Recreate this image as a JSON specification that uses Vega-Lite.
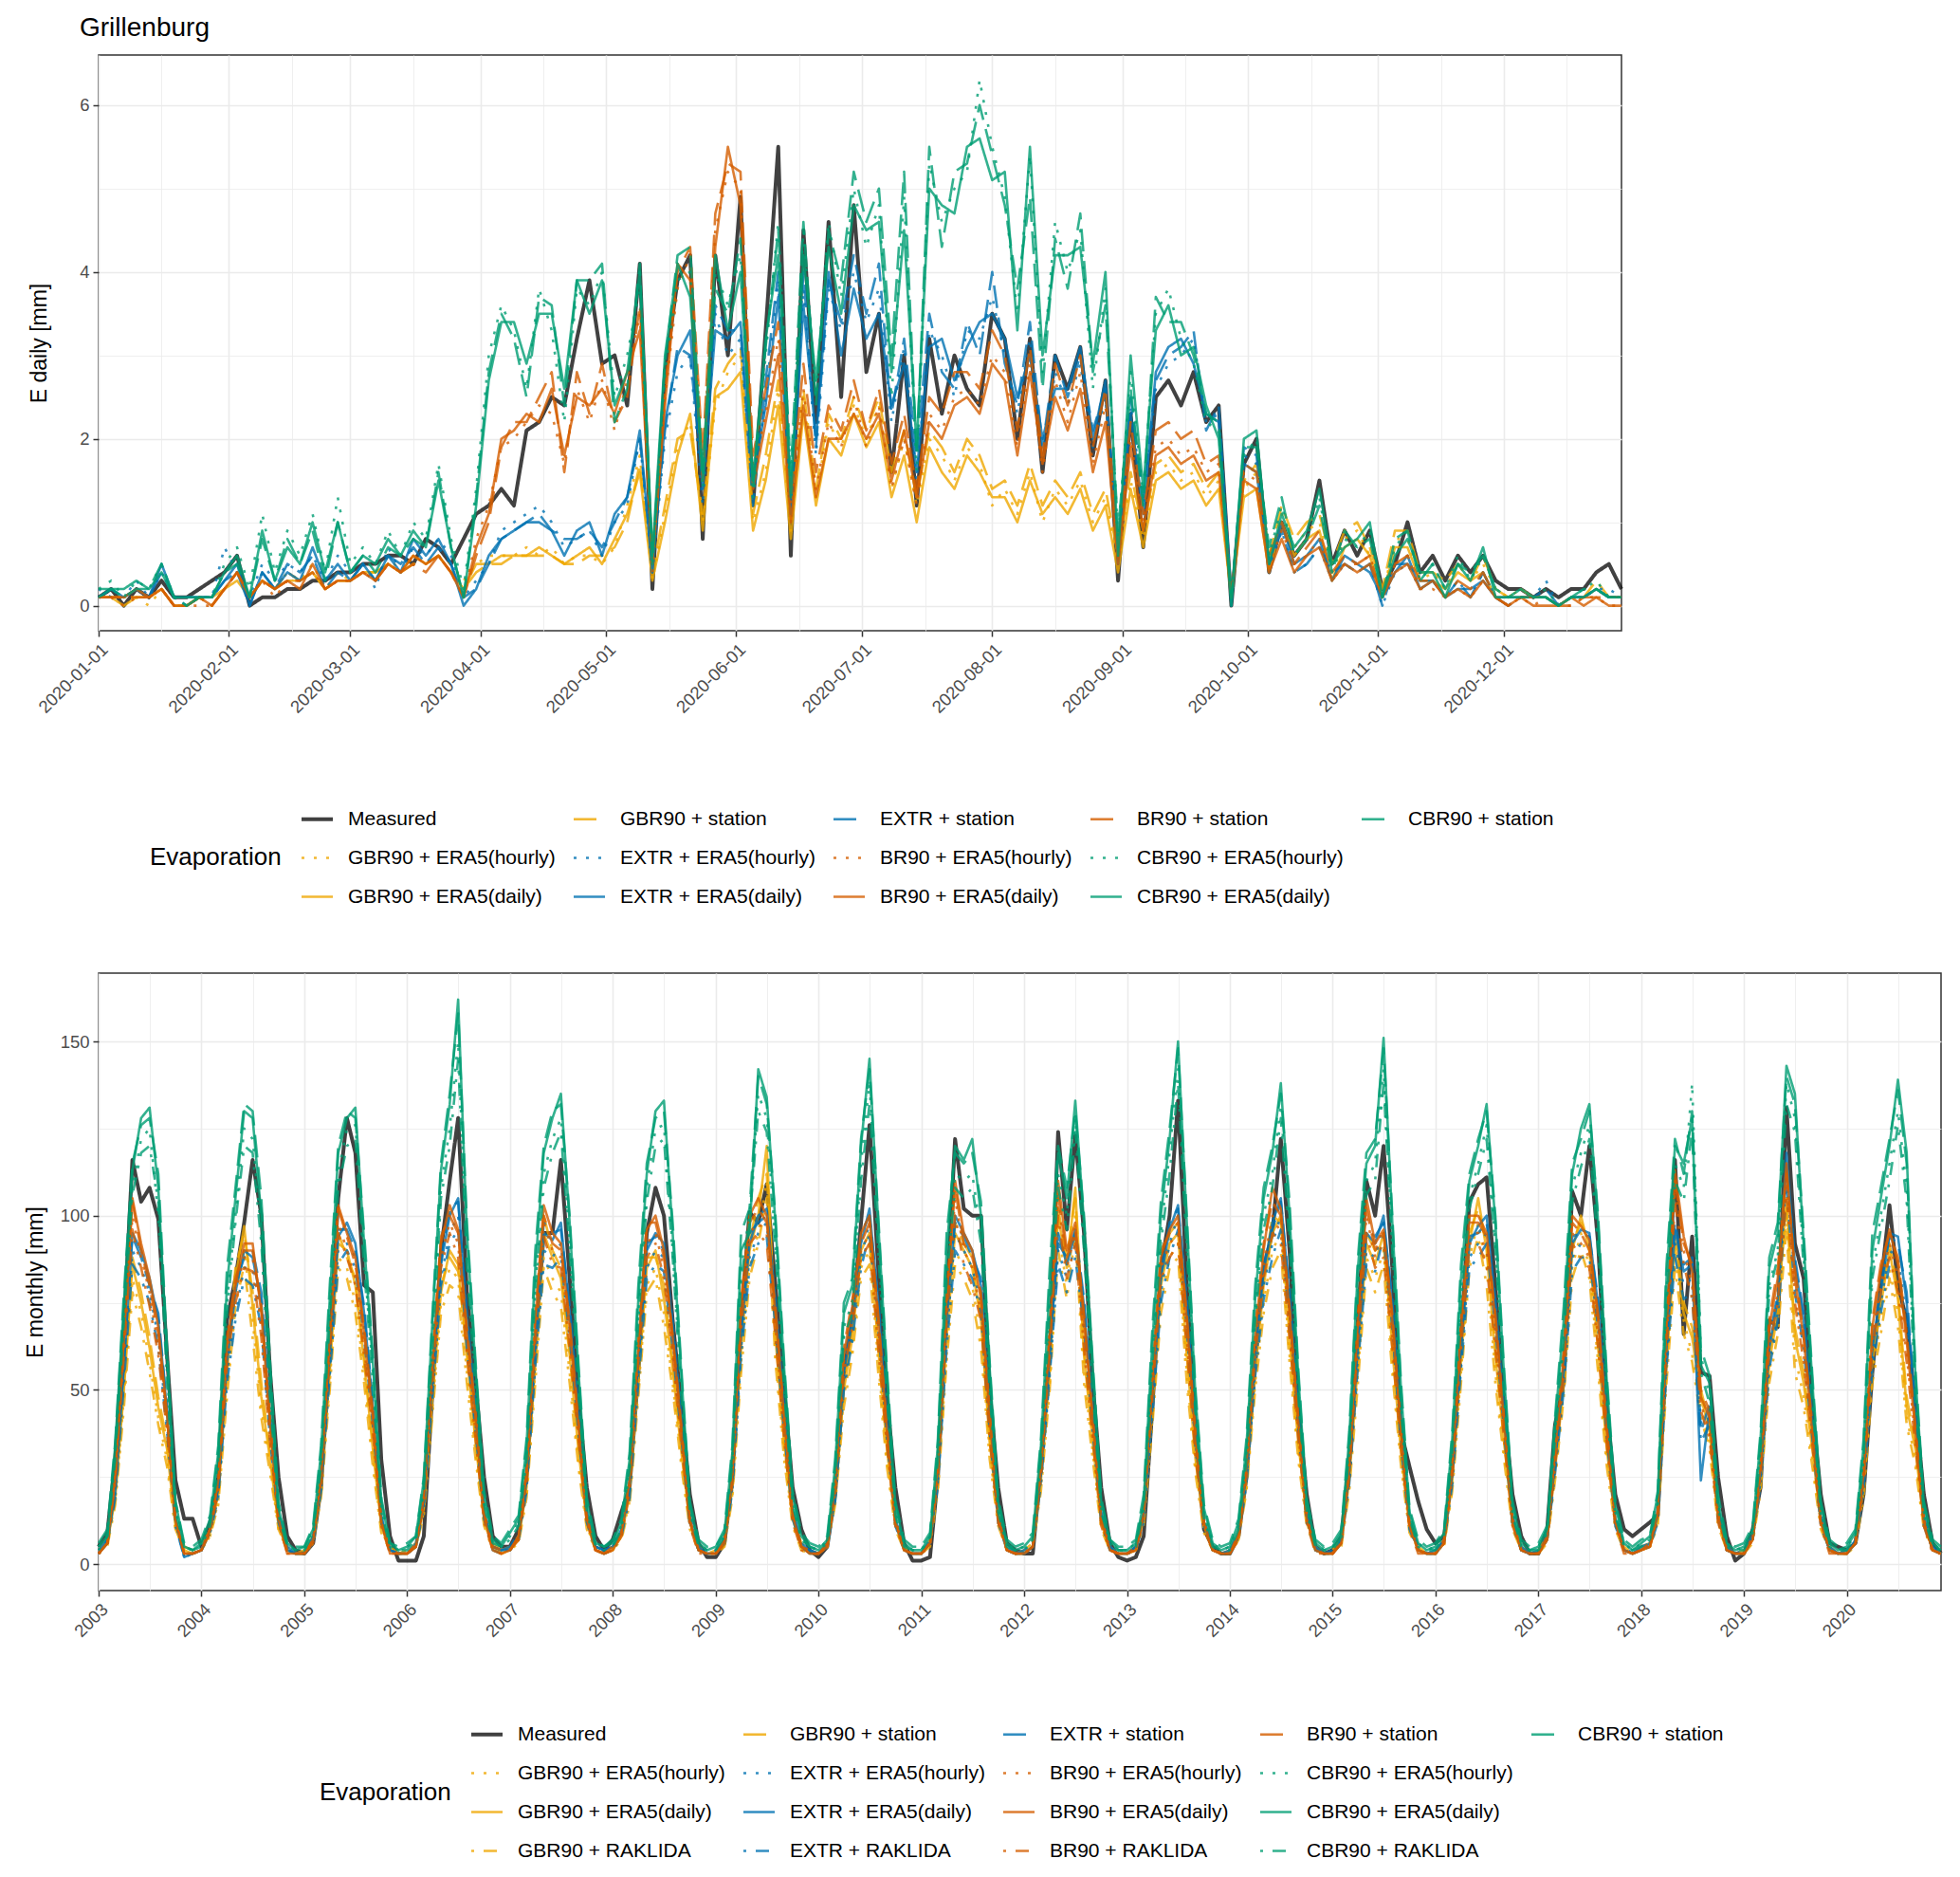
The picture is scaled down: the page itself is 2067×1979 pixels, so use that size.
{
"$schema":"https://vega.github.io/schema/vega-lite/v6.json",
"padding":{"left":25,"top":15,"right":10,"bottom":5},
"background":"white",
"datasets":{
"names":[{"k":"M","n":"Measured"},{"k":"Gh","n":"GBR90 + ERA5(hourly)"},{"k":"Gd","n":"GBR90 + ERA5(daily)"},{"k":"Gr","n":"GBR90 + RAKLIDA"},{"k":"Gs","n":"GBR90 + station"},{"k":"Eh","n":"EXTR + ERA5(hourly)"},{"k":"Ed","n":"EXTR + ERA5(daily)"},{"k":"Er","n":"EXTR + RAKLIDA"},{"k":"Es","n":"EXTR + station"},{"k":"Bh","n":"BR90 + ERA5(hourly)"},{"k":"Bd","n":"BR90 + ERA5(daily)"},{"k":"Br","n":"BR90 + RAKLIDA"},{"k":"Bs","n":"BR90 + station"},{"k":"Ch","n":"CBR90 + ERA5(hourly)"},{"k":"Cd","n":"CBR90 + ERA5(daily)"},{"k":"Cr","n":"CBR90 + RAKLIDA"},{"k":"Cs","n":"CBR90 + station"}],
"daily":[
{"d":"2020-01-01","M":0.1,"Gh":0.1,"Gd":0.1,"Gs":0.1,"Eh":0.2,"Ed":0.1,"Es":0.1,"Bh":0.1,"Bd":0.1,"Bs":0.1,"Ch":0.2,"Cd":0.1,"Cs":0.2},
{"d":"2020-01-04","M":0.2,"Gh":0.1,"Gd":0.1,"Gs":0.1,"Eh":0.1,"Ed":0.2,"Es":0.2,"Bh":0.1,"Bd":0.1,"Bs":0.1,"Ch":0.3,"Cd":0.2,"Cs":0.2},
{"d":"2020-01-07","M":0.0,"Gh":0.1,"Gd":0.0,"Gs":0.1,"Eh":0.1,"Ed":0.1,"Es":0.1,"Bh":0.0,"Bd":0.1,"Bs":0.1,"Ch":0.1,"Cd":0.2,"Cs":0.1},
{"d":"2020-01-10","M":0.2,"Gh":0.1,"Gd":0.1,"Gs":0.1,"Eh":0.3,"Ed":0.2,"Es":0.2,"Bh":0.1,"Bd":0.2,"Bs":0.1,"Ch":0.3,"Cd":0.3,"Cs":0.2},
{"d":"2020-01-13","M":0.1,"Gh":0.0,"Gd":0.1,"Gs":0.1,"Eh":0.1,"Ed":0.1,"Es":0.1,"Bh":0.1,"Bd":0.1,"Bs":0.1,"Ch":0.2,"Cd":0.2,"Cs":0.2},
{"d":"2020-01-16","M":0.3,"Gh":0.2,"Gd":0.2,"Gs":0.2,"Eh":0.4,"Ed":0.5,"Es":0.4,"Bh":0.2,"Bd":0.2,"Bs":0.2,"Ch":0.5,"Cd":0.4,"Cs":0.5},
{"d":"2020-01-19","M":0.1,"Gh":0.0,"Gd":0.0,"Gs":0.0,"Eh":0.1,"Ed":0.1,"Es":0.1,"Bh":0.0,"Bd":0.0,"Bs":0.0,"Ch":0.1,"Cd":0.1,"Cs":0.1},
{"d":"2020-01-22","M":0.1,"Gh":0.0,"Gd":0.0,"Gs":0.0,"Eh":0.0,"Ed":0.1,"Es":0.1,"Bh":0.0,"Bd":0.0,"Bs":0.0,"Ch":0.0,"Cd":0.1,"Cs":0.0},
{"d":"2020-01-25","M":0.2,"Gh":0.1,"Gd":0.1,"Gs":0.1,"Eh":0.1,"Ed":0.1,"Es":0.1,"Bh":0.0,"Bd":0.1,"Bs":0.1,"Ch":0.1,"Cd":0.1,"Cs":0.1},
{"d":"2020-01-28","M":0.3,"Gh":0.0,"Gd":0.1,"Gs":0.0,"Eh":0.1,"Ed":0.1,"Es":0.1,"Bh":0.0,"Bd":0.0,"Bs":0.0,"Ch":0.1,"Cd":0.1,"Cs":0.1},
{"d":"2020-01-31","M":0.4,"Gh":0.2,"Gd":0.2,"Gs":0.2,"Eh":0.7,"Ed":0.3,"Es":0.3,"Bh":0.2,"Bd":0.2,"Bs":0.2,"Ch":0.5,"Cd":0.4,"Cs":0.4},
{"d":"2020-02-03","M":0.6,"Gh":0.4,"Gd":0.3,"Gs":0.4,"Eh":0.4,"Ed":0.5,"Es":0.4,"Bh":0.4,"Bd":0.4,"Bs":0.4,"Ch":0.7,"Cd":0.6,"Cs":0.5},
{"d":"2020-02-06","M":0.0,"Gh":0.1,"Gd":0.1,"Gs":0.1,"Eh":0.1,"Ed":0.0,"Es":0.0,"Bh":0.1,"Bd":0.1,"Bs":0.1,"Ch":0.2,"Cd":0.1,"Cs":0.1},
{"d":"2020-02-09","M":0.1,"Gh":0.3,"Gd":0.3,"Gs":0.3,"Eh":0.5,"Ed":0.4,"Es":0.4,"Bh":0.3,"Bd":0.3,"Bs":0.3,"Ch":1.1,"Cd":0.9,"Cs":0.8},
{"d":"2020-02-12","M":0.1,"Gh":0.2,"Gd":0.2,"Gs":0.2,"Eh":0.3,"Ed":0.2,"Es":0.2,"Bh":0.1,"Bd":0.2,"Bs":0.2,"Ch":0.4,"Cd":0.3,"Cs":0.3},
{"d":"2020-02-15","M":0.2,"Gh":0.4,"Gd":0.3,"Gs":0.4,"Eh":0.5,"Ed":0.4,"Es":0.5,"Bh":0.3,"Bd":0.3,"Bs":0.3,"Ch":0.9,"Cd":0.7,"Cs":0.8},
{"d":"2020-02-18","M":0.2,"Gh":0.3,"Gd":0.3,"Gs":0.3,"Eh":0.4,"Ed":0.3,"Es":0.4,"Bh":0.3,"Bd":0.2,"Bs":0.3,"Ch":0.6,"Cd":0.5,"Cs":0.5},
{"d":"2020-02-21","M":0.3,"Gh":0.5,"Gd":0.4,"Gs":0.4,"Eh":0.6,"Ed":0.7,"Es":0.6,"Bh":0.4,"Bd":0.5,"Bs":0.4,"Ch":1.1,"Cd":1.0,"Cs":0.9},
{"d":"2020-02-24","M":0.3,"Gh":0.2,"Gd":0.2,"Gs":0.2,"Eh":0.3,"Ed":0.3,"Es":0.2,"Bh":0.2,"Bd":0.2,"Bs":0.2,"Ch":0.4,"Cd":0.4,"Cs":0.3},
{"d":"2020-02-27","M":0.4,"Gh":0.4,"Gd":0.3,"Gs":0.3,"Eh":0.6,"Ed":0.5,"Es":0.4,"Bh":0.3,"Bd":0.3,"Bs":0.3,"Ch":1.3,"Cd":1.0,"Cs":1.0},
{"d":"2020-03-01","M":0.4,"Gh":0.3,"Gd":0.3,"Gs":0.3,"Eh":0.4,"Ed":0.3,"Es":0.3,"Bh":0.3,"Bd":0.3,"Bs":0.3,"Ch":0.5,"Cd":0.4,"Cs":0.4},
{"d":"2020-03-04","M":0.5,"Gh":0.5,"Gd":0.4,"Gs":0.4,"Eh":0.5,"Ed":0.5,"Es":0.5,"Bh":0.4,"Bd":0.4,"Bs":0.4,"Ch":0.7,"Cd":0.6,"Cs":0.6},
{"d":"2020-03-07","M":0.5,"Gh":0.3,"Gd":0.4,"Gs":0.4,"Eh":0.2,"Ed":0.3,"Es":0.3,"Bh":0.3,"Bd":0.3,"Bs":0.3,"Ch":0.5,"Cd":0.5,"Cs":0.4},
{"d":"2020-03-10","M":0.6,"Gh":0.6,"Gd":0.5,"Gs":0.5,"Eh":0.7,"Ed":0.6,"Es":0.6,"Bh":0.5,"Bd":0.5,"Bs":0.5,"Ch":0.9,"Cd":0.8,"Cs":0.7},
{"d":"2020-03-13","M":0.6,"Gh":0.4,"Gd":0.4,"Gs":0.4,"Eh":0.4,"Ed":0.4,"Es":0.5,"Bh":0.4,"Bd":0.4,"Bs":0.4,"Ch":0.6,"Cd":0.6,"Cs":0.6},
{"d":"2020-03-16","M":0.5,"Gh":0.6,"Gd":0.6,"Gs":0.5,"Eh":0.7,"Ed":0.8,"Es":0.7,"Bh":0.6,"Bd":0.6,"Bs":0.5,"Ch":1.0,"Cd":0.9,"Cs":0.8},
{"d":"2020-03-19","M":0.8,"Gh":0.5,"Gd":0.5,"Gs":0.5,"Eh":0.6,"Ed":0.6,"Es":0.5,"Bh":0.5,"Bd":0.5,"Bs":0.4,"Ch":0.8,"Cd":0.7,"Cs":0.7},
{"d":"2020-03-22","M":0.7,"Gh":0.6,"Gd":0.6,"Gs":0.6,"Eh":0.8,"Ed":0.8,"Es":0.7,"Bh":0.6,"Bd":0.6,"Bs":0.6,"Ch":1.7,"Cd":1.5,"Cs":1.6},
{"d":"2020-03-25","M":0.5,"Gh":0.5,"Gd":0.4,"Gs":0.4,"Eh":0.6,"Ed":0.5,"Es":0.5,"Bh":0.4,"Bd":0.4,"Bs":0.4,"Ch":0.8,"Cd":0.7,"Cs":0.7},
{"d":"2020-03-28","M":0.8,"Gh":0.3,"Gd":0.2,"Gs":0.2,"Eh":0.1,"Ed":0.0,"Es":0.1,"Bh":0.1,"Bd":0.1,"Bs":0.1,"Ch":0.2,"Cd":0.1,"Cs":0.1},
{"d":"2020-03-31","M":1.1,"Gh":0.5,"Gd":0.5,"Gs":0.4,"Eh":0.3,"Ed":0.2,"Es":0.2,"Bh":0.8,"Bd":0.7,"Bs":0.6,"Ch":1.4,"Cd":1.2,"Cs":1.3},
{"d":"2020-04-03","M":1.2,"Gh":0.6,"Gd":0.5,"Gs":0.5,"Eh":0.5,"Ed":0.6,"Es":0.5,"Bh":1.2,"Bd":1.1,"Bs":1.0,"Ch":3.0,"Cd":2.7,"Cs":2.8},
{"d":"2020-04-06","M":1.4,"Gh":0.6,"Gd":0.6,"Gs":0.5,"Eh":0.9,"Ed":0.8,"Es":0.8,"Bh":1.9,"Bd":2.0,"Bs":1.9,"Ch":3.6,"Cd":3.4,"Cs":3.5},
{"d":"2020-04-09","M":1.2,"Gh":0.6,"Gd":0.6,"Gs":0.6,"Eh":1.0,"Ed":0.9,"Es":0.9,"Bh":2.0,"Bd":2.1,"Bs":2.2,"Ch":3.3,"Cd":3.4,"Cs":3.2},
{"d":"2020-04-12","M":2.1,"Gh":0.7,"Gd":0.6,"Gs":0.6,"Eh":1.1,"Ed":1.0,"Es":1.0,"Bh":2.2,"Bd":2.3,"Bs":2.2,"Ch":2.6,"Cd":2.9,"Cs":2.5},
{"d":"2020-04-15","M":2.2,"Gh":0.6,"Gd":0.7,"Gs":0.6,"Eh":1.2,"Ed":1.0,"Es":1.1,"Bh":2.4,"Bd":2.2,"Bs":2.5,"Ch":3.8,"Cd":3.5,"Cs":3.7},
{"d":"2020-04-18","M":2.5,"Gh":0.7,"Gd":0.6,"Gs":0.6,"Eh":1.0,"Ed":0.9,"Es":0.9,"Bh":2.3,"Bd":2.6,"Bs":2.8,"Ch":3.3,"Cd":3.5,"Cs":3.6},
{"d":"2020-04-21","M":2.4,"Gh":0.5,"Gd":0.5,"Gs":0.5,"Eh":0.7,"Ed":0.6,"Es":0.8,"Bh":1.7,"Bd":1.8,"Bs":1.6,"Ch":2.2,"Cd":2.6,"Cs":2.4},
{"d":"2020-04-24","M":3.2,"Gh":0.6,"Gd":0.6,"Gs":0.5,"Eh":0.8,"Ed":0.9,"Es":0.8,"Bh":2.6,"Bd":2.5,"Bs":2.8,"Ch":3.8,"Cd":3.9,"Cs":3.9},
{"d":"2020-04-27","M":3.9,"Gh":0.6,"Gd":0.7,"Gs":0.6,"Eh":0.9,"Ed":1.0,"Es":0.9,"Bh":2.2,"Bd":2.4,"Bs":2.3,"Ch":3.6,"Cd":3.5,"Cs":3.9},
{"d":"2020-04-30","M":2.9,"Gh":0.5,"Gd":0.5,"Gs":0.6,"Eh":0.6,"Ed":0.6,"Es":0.7,"Bh":2.7,"Bd":2.6,"Bs":2.9,"Ch":4.0,"Cd":3.9,"Cs":4.1},
{"d":"2020-05-03","M":3.0,"Gh":0.7,"Gd":0.8,"Gs":0.7,"Eh":1.0,"Ed":1.1,"Es":1.0,"Bh":2.1,"Bd":2.3,"Bs":2.2,"Ch":2.5,"Cd":2.4,"Cs":2.2},
{"d":"2020-05-06","M":2.4,"Gh":1.2,"Gd":1.1,"Gs":1.0,"Eh":1.2,"Ed":1.3,"Es":1.3,"Bh":2.7,"Bd":2.8,"Bs":2.5,"Ch":3.0,"Cd":2.8,"Cs":2.6},
{"d":"2020-05-09","M":4.1,"Gh":1.8,"Gd":1.6,"Gs":1.7,"Eh":2.0,"Ed":2.1,"Es":2.0,"Bh":3.5,"Bd":3.3,"Bs":3.6,"Ch":3.8,"Cd":4.0,"Cs":4.1},
{"d":"2020-05-12","M":0.2,"Gh":0.3,"Gd":0.3,"Gs":0.4,"Eh":0.4,"Ed":0.4,"Es":0.5,"Bh":0.4,"Bd":0.5,"Bs":0.6,"Ch":0.5,"Cd":0.6,"Cs":0.5},
{"d":"2020-05-15","M":2.8,"Gh":1.1,"Gd":1.0,"Gs":1.2,"Eh":2.0,"Ed":2.2,"Es":2.1,"Bh":2.5,"Bd":2.4,"Bs":2.6,"Ch":2.8,"Cd":3.0,"Cs":2.9},
{"d":"2020-05-18","M":3.9,"Gh":1.9,"Gd":1.8,"Gs":2.0,"Eh":2.8,"Ed":3.0,"Es":3.1,"Bh":3.8,"Bd":4.1,"Bs":4.0,"Ch":3.9,"Cd":4.1,"Cs":4.2},
{"d":"2020-05-21","M":4.2,"Gh":2.2,"Gd":2.3,"Gs":2.1,"Eh":3.0,"Ed":3.3,"Es":3.0,"Bh":4.2,"Bd":3.9,"Bs":4.3,"Ch":4.0,"Cd":3.7,"Cs":4.3},
{"d":"2020-05-24","M":0.8,"Gh":1.0,"Gd":0.9,"Gs":1.1,"Eh":1.2,"Ed":1.4,"Es":1.5,"Bh":1.6,"Bd":1.5,"Bs":1.8,"Ch":1.4,"Cd":1.6,"Cs":1.5},
{"d":"2020-05-27","M":4.2,"Gh":2.4,"Gd":2.5,"Gs":2.6,"Eh":3.5,"Ed":3.3,"Es":3.6,"Bh":4.5,"Bd":4.3,"Bs":4.7,"Ch":4.0,"Cd":4.2,"Cs":3.8},
{"d":"2020-05-30","M":3.0,"Gh":2.8,"Gd":2.6,"Gs":2.9,"Eh":3.0,"Ed":3.2,"Es":3.3,"Bh":5.2,"Bd":5.5,"Bs":5.3,"Ch":3.6,"Cd":3.3,"Cs":3.5},
{"d":"2020-06-02","M":4.9,"Gh":3.0,"Gd":2.8,"Gs":3.1,"Eh":3.2,"Ed":3.4,"Es":3.3,"Bh":5.0,"Bd":4.8,"Bs":5.2,"Ch":4.2,"Cd":4.0,"Cs":4.4},
{"d":"2020-06-05","M":1.2,"Gh":1.0,"Gd":0.9,"Gs":1.1,"Eh":1.3,"Ed":1.5,"Es":1.2,"Bh":1.6,"Bd":1.4,"Bs":1.8,"Ch":1.3,"Cd":1.5,"Cs":1.4},
{"d":"2020-06-08","M":3.3,"Gh":1.6,"Gd":1.5,"Gs":1.8,"Eh":2.5,"Ed":2.4,"Es":2.7,"Bh":2.3,"Bd":2.2,"Bs":2.6,"Ch":3.0,"Cd":3.2,"Cs":3.1},
{"d":"2020-06-11","M":5.5,"Gh":2.6,"Gd":2.4,"Gs":2.7,"Eh":3.9,"Ed":3.7,"Es":4.0,"Bh":3.2,"Bd":3.0,"Bs":3.4,"Ch":4.6,"Cd":4.2,"Cs":4.5},
{"d":"2020-06-14","M":0.6,"Gh":0.9,"Gd":0.8,"Gs":1.0,"Eh":1.2,"Ed":1.1,"Es":1.3,"Bh":1.2,"Bd":1.0,"Bs":1.3,"Ch":1.5,"Cd":1.3,"Cs":1.6},
{"d":"2020-06-17","M":4.5,"Gh":2.5,"Gd":2.3,"Gs":2.6,"Eh":3.8,"Ed":3.6,"Es":4.0,"Bh":2.6,"Bd":2.4,"Bs":2.9,"Ch":4.5,"Cd":4.2,"Cs":4.6},
{"d":"2020-06-20","M":2.2,"Gh":1.3,"Gd":1.2,"Gs":1.4,"Eh":1.8,"Ed":2.0,"Es":1.9,"Bh":1.4,"Bd":1.3,"Bs":1.6,"Ch":2.5,"Cd":2.7,"Cs":2.4},
{"d":"2020-06-23","M":4.6,"Gh":2.2,"Gd":2.0,"Gs":2.3,"Eh":3.8,"Ed":4.0,"Es":3.9,"Bh":2.2,"Bd":2.0,"Bs":2.4,"Ch":4.6,"Cd":4.3,"Cs":4.5},
{"d":"2020-06-26","M":2.5,"Gh":1.9,"Gd":1.8,"Gs":2.0,"Eh":3.3,"Ed":3.0,"Es":3.4,"Bh":1.9,"Bd":2.0,"Bs":2.1,"Ch":3.7,"Cd":3.5,"Cs":3.9},
{"d":"2020-06-29","M":4.8,"Gh":2.4,"Gd":2.3,"Gs":2.5,"Eh":4.0,"Ed":3.8,"Es":4.2,"Bh":2.5,"Bd":2.3,"Bs":2.7,"Ch":5.0,"Cd":4.8,"Cs":5.2},
{"d":"2020-07-02","M":2.8,"Gh":2.0,"Gd":1.9,"Gs":2.1,"Eh":3.4,"Ed":3.2,"Es":3.5,"Bh":1.9,"Bd":2.0,"Bs":2.1,"Ch":4.3,"Cd":4.5,"Cs":4.6},
{"d":"2020-07-05","M":3.5,"Gh":2.4,"Gd":2.2,"Gs":2.5,"Eh":3.8,"Ed":3.5,"Es":4.1,"Bh":2.4,"Bd":2.3,"Bs":2.6,"Ch":4.8,"Cd":4.6,"Cs":5.0},
{"d":"2020-07-08","M":1.6,"Gh":1.4,"Gd":1.3,"Gs":1.6,"Eh":2.2,"Ed":2.4,"Es":2.3,"Bh":1.4,"Bd":1.5,"Bs":1.7,"Ch":2.5,"Cd":2.8,"Cs":3.0},
{"d":"2020-07-11","M":3.0,"Gh":2.0,"Gd":1.8,"Gs":2.1,"Eh":3.1,"Ed":2.9,"Es":3.2,"Bh":2.0,"Bd":2.1,"Bs":2.3,"Ch":4.9,"Cd":4.5,"Cs":5.2},
{"d":"2020-07-14","M":1.2,"Gh":1.2,"Gd":1.0,"Gs":1.3,"Eh":1.5,"Ed":1.6,"Es":1.8,"Bh":1.2,"Bd":1.3,"Bs":1.4,"Ch":1.6,"Cd":1.9,"Cs":1.8},
{"d":"2020-07-17","M":3.2,"Gh":2.0,"Gd":1.9,"Gs":2.1,"Eh":3.3,"Ed":3.1,"Es":3.5,"Bh":2.3,"Bd":2.2,"Bs":2.5,"Ch":5.3,"Cd":5.0,"Cs":5.5},
{"d":"2020-07-20","M":2.3,"Gh":1.8,"Gd":1.6,"Gs":1.9,"Eh":3.0,"Ed":3.2,"Es":2.8,"Bh":2.1,"Bd":2.0,"Bs":2.3,"Ch":4.6,"Cd":4.8,"Cs":4.3},
{"d":"2020-07-23","M":3.0,"Gh":1.5,"Gd":1.4,"Gs":1.6,"Eh":2.5,"Ed":2.7,"Es":2.6,"Bh":2.5,"Bd":2.4,"Bs":2.8,"Ch":5.0,"Cd":4.7,"Cs":5.2},
{"d":"2020-07-26","M":2.6,"Gh":1.9,"Gd":1.8,"Gs":2.0,"Eh":3.3,"Ed":3.1,"Es":3.4,"Bh":2.6,"Bd":2.5,"Bs":2.8,"Ch":5.2,"Cd":5.5,"Cs":5.3},
{"d":"2020-07-29","M":2.4,"Gh":1.7,"Gd":1.6,"Gs":1.8,"Eh":3.2,"Ed":3.4,"Es":3.0,"Bh":2.4,"Bd":2.3,"Bs":2.6,"Ch":6.3,"Cd":5.6,"Cs":6.0},
{"d":"2020-08-01","M":3.5,"Gh":1.2,"Gd":1.3,"Gs":1.4,"Eh":3.7,"Ed":3.5,"Es":4.0,"Bh":3.0,"Bd":2.9,"Bs":3.3,"Ch":5.5,"Cd":5.1,"Cs":5.4},
{"d":"2020-08-04","M":3.2,"Gh":1.4,"Gd":1.3,"Gs":1.5,"Eh":3.0,"Ed":3.2,"Es":2.9,"Bh":2.8,"Bd":2.7,"Bs":3.0,"Ch":4.9,"Cd":5.2,"Cs":4.8},
{"d":"2020-08-07","M":2.0,"Gh":1.1,"Gd":1.0,"Gs":1.2,"Eh":2.3,"Ed":2.5,"Es":2.4,"Bh":1.9,"Bd":1.8,"Bs":2.1,"Ch":3.5,"Cd":3.3,"Cs":3.8},
{"d":"2020-08-10","M":3.2,"Gh":1.6,"Gd":1.5,"Gs":1.7,"Eh":3.2,"Ed":3.0,"Es":3.4,"Bh":2.9,"Bd":2.8,"Bs":3.1,"Ch":5.4,"Cd":5.5,"Cs":4.9},
{"d":"2020-08-13","M":1.6,"Gh":1.0,"Gd":1.1,"Gs":1.2,"Eh":1.8,"Ed":2.0,"Es":1.9,"Bh":1.6,"Bd":1.7,"Bs":1.8,"Ch":2.8,"Cd":3.0,"Cs":2.6},
{"d":"2020-08-16","M":3.0,"Gh":1.4,"Gd":1.3,"Gs":1.5,"Eh":2.8,"Ed":2.6,"Es":3.0,"Bh":2.7,"Bd":2.5,"Bs":2.9,"Ch":4.6,"Cd":4.2,"Cs":4.4},
{"d":"2020-08-19","M":2.6,"Gh":1.2,"Gd":1.1,"Gs":1.3,"Eh":2.4,"Ed":2.6,"Es":2.5,"Bh":2.2,"Bd":2.1,"Bs":2.4,"Ch":4.0,"Cd":4.2,"Cs":3.8},
{"d":"2020-08-22","M":3.1,"Gh":1.5,"Gd":1.4,"Gs":1.6,"Eh":2.9,"Ed":3.1,"Es":3.0,"Bh":2.8,"Bd":2.6,"Bs":3.0,"Ch":4.5,"Cd":4.3,"Cs":4.7},
{"d":"2020-08-25","M":1.8,"Gh":1.0,"Gd":0.9,"Gs":1.1,"Eh":1.9,"Ed":2.0,"Es":2.1,"Bh":1.7,"Bd":1.6,"Bs":1.9,"Ch":2.6,"Cd":2.9,"Cs":2.8},
{"d":"2020-08-28","M":2.7,"Gh":1.3,"Gd":1.2,"Gs":1.4,"Eh":2.5,"Ed":2.7,"Es":2.6,"Bh":2.4,"Bd":2.2,"Bs":2.6,"Ch":3.8,"Cd":4.0,"Cs":3.6},
{"d":"2020-08-31","M":0.3,"Gh":0.5,"Gd":0.4,"Gs":0.6,"Eh":0.6,"Ed":0.5,"Es":0.7,"Bh":0.6,"Bd":0.5,"Bs":0.7,"Ch":0.8,"Cd":0.6,"Cs":0.9},
{"d":"2020-09-03","M":2.3,"Gh":1.5,"Gd":1.4,"Gs":1.6,"Eh":2.4,"Ed":2.3,"Es":2.5,"Bh":2.0,"Bd":1.9,"Bs":2.2,"Ch":2.8,"Cd":3.0,"Cs":2.6},
{"d":"2020-09-06","M":0.7,"Gh":0.8,"Gd":0.7,"Gs":0.9,"Eh":1.2,"Ed":1.1,"Es":1.3,"Bh":1.0,"Bd":0.9,"Bs":1.1,"Ch":1.3,"Cd":1.4,"Cs":1.2},
{"d":"2020-09-09","M":2.5,"Gh":1.6,"Gd":1.5,"Gs":1.7,"Eh":2.6,"Ed":2.8,"Es":2.7,"Bh":1.9,"Bd":1.8,"Bs":2.1,"Ch":3.5,"Cd":3.3,"Cs":3.7},
{"d":"2020-09-12","M":2.7,"Gh":1.7,"Gd":1.6,"Gs":1.8,"Eh":2.9,"Ed":3.1,"Es":3.0,"Bh":2.0,"Bd":1.9,"Bs":2.2,"Ch":3.8,"Cd":3.6,"Cs":3.4},
{"d":"2020-09-15","M":2.4,"Gh":1.5,"Gd":1.4,"Gs":1.6,"Eh":3.0,"Ed":3.2,"Es":3.1,"Bh":1.8,"Bd":1.7,"Bs":2.0,"Ch":3.2,"Cd":3.0,"Cs":3.4},
{"d":"2020-09-18","M":2.8,"Gh":1.6,"Gd":1.5,"Gs":1.7,"Eh":3.2,"Ed":2.9,"Es":3.3,"Bh":1.9,"Bd":1.8,"Bs":2.1,"Ch":2.9,"Cd":3.1,"Cs":3.0},
{"d":"2020-09-21","M":2.2,"Gh":1.3,"Gd":1.2,"Gs":1.4,"Eh":2.2,"Ed":2.3,"Es":2.1,"Bh":1.6,"Bd":1.5,"Bs":1.7,"Ch":2.2,"Cd":2.4,"Cs":2.3},
{"d":"2020-09-24","M":2.4,"Gh":1.5,"Gd":1.4,"Gs":1.6,"Eh":2.3,"Ed":2.2,"Es":2.4,"Bh":1.7,"Bd":1.6,"Bs":1.8,"Ch":2.1,"Cd":2.0,"Cs":2.2},
{"d":"2020-09-27","M":0.0,"Gh":0.1,"Gd":0.1,"Gs":0.2,"Eh":0.1,"Ed":0.0,"Es":0.1,"Bh":0.1,"Bd":0.1,"Bs":0.1,"Ch":0.1,"Cd":0.0,"Cs":0.1},
{"d":"2020-09-30","M":1.7,"Gh":1.4,"Gd":1.3,"Gs":1.5,"Eh":1.8,"Ed":1.7,"Es":1.9,"Bh":1.6,"Bd":1.5,"Bs":1.7,"Ch":1.8,"Cd":2.0,"Cs":1.9},
{"d":"2020-10-03","M":2.0,"Gh":1.6,"Gd":1.4,"Gs":1.7,"Eh":1.7,"Ed":1.6,"Es":1.8,"Bh":1.5,"Bd":1.4,"Bs":1.6,"Ch":2.0,"Cd":2.1,"Cs":1.9},
{"d":"2020-10-06","M":0.4,"Gh":0.5,"Gd":0.4,"Gs":0.6,"Eh":0.4,"Ed":0.5,"Es":0.5,"Bh":0.5,"Bd":0.4,"Bs":0.6,"Ch":0.6,"Cd":0.5,"Cs":0.7},
{"d":"2020-10-09","M":1.0,"Gh":1.1,"Gd":1.0,"Gs":1.2,"Eh":0.9,"Ed":1.0,"Es":0.9,"Bh":0.9,"Bd":0.8,"Bs":1.0,"Ch":1.2,"Cd":1.1,"Cs":1.3},
{"d":"2020-10-12","M":0.6,"Gh":0.7,"Gd":0.6,"Gs":0.8,"Eh":0.4,"Ed":0.5,"Es":0.4,"Bh":0.5,"Bd":0.4,"Bs":0.5,"Ch":0.6,"Cd":0.7,"Cs":0.6},
{"d":"2020-10-15","M":0.8,"Gh":0.9,"Gd":0.8,"Gs":1.0,"Eh":0.5,"Ed":0.6,"Es":0.5,"Bh":0.6,"Bd":0.6,"Bs":0.7,"Ch":0.8,"Cd":0.9,"Cs":0.8},
{"d":"2020-10-18","M":1.5,"Gh":1.0,"Gd":0.9,"Gs":1.1,"Eh":0.7,"Ed":0.8,"Es":0.7,"Bh":0.8,"Bd":0.7,"Bs":0.9,"Ch":1.3,"Cd":1.4,"Cs":1.2},
{"d":"2020-10-21","M":0.5,"Gh":0.4,"Gd":0.3,"Gs":0.5,"Eh":0.3,"Ed":0.3,"Es":0.4,"Bh":0.3,"Bd":0.3,"Bs":0.4,"Ch":0.4,"Cd":0.5,"Cs":0.4},
{"d":"2020-10-24","M":0.9,"Gh":0.8,"Gd":0.7,"Gs":0.9,"Eh":0.5,"Ed":0.6,"Es":0.5,"Bh":0.5,"Bd":0.5,"Bs":0.6,"Ch":0.8,"Cd":0.7,"Cs":0.9},
{"d":"2020-10-27","M":0.6,"Gh":0.9,"Gd":0.8,"Gs":1.0,"Eh":0.4,"Ed":0.5,"Es":0.4,"Bh":0.5,"Bd":0.4,"Bs":0.5,"Ch":0.7,"Cd":0.8,"Cs":0.7},
{"d":"2020-10-30","M":0.9,"Gh":0.6,"Gd":0.6,"Gs":0.7,"Eh":0.5,"Ed":0.4,"Es":0.5,"Bh":0.6,"Bd":0.5,"Bs":0.6,"Ch":0.9,"Cd":1.0,"Cs":0.8},
{"d":"2020-11-02","M":0.2,"Gh":0.1,"Gd":0.1,"Gs":0.2,"Eh":0.0,"Ed":0.1,"Es":0.0,"Bh":0.1,"Bd":0.1,"Bs":0.1,"Ch":0.1,"Cd":0.1,"Cs":0.1},
{"d":"2020-11-05","M":0.5,"Gh":0.8,"Gd":0.7,"Gs":0.9,"Eh":0.4,"Ed":0.4,"Es":0.5,"Bh":0.5,"Bd":0.4,"Bs":0.5,"Ch":0.7,"Cd":0.6,"Cs":0.8},
{"d":"2020-11-08","M":1.0,"Gh":0.8,"Gd":0.7,"Gs":0.9,"Eh":0.5,"Ed":0.6,"Es":0.5,"Bh":0.6,"Bd":0.5,"Bs":0.6,"Ch":0.9,"Cd":0.8,"Cs":0.9},
{"d":"2020-11-11","M":0.4,"Gh":0.3,"Gd":0.3,"Gs":0.4,"Eh":0.2,"Ed":0.2,"Es":0.3,"Bh":0.2,"Bd":0.2,"Bs":0.3,"Ch":0.3,"Cd":0.4,"Cs":0.3},
{"d":"2020-11-14","M":0.6,"Gh":0.4,"Gd":0.3,"Gs":0.4,"Eh":0.3,"Ed":0.3,"Es":0.3,"Bh":0.2,"Bd":0.3,"Bs":0.3,"Ch":0.5,"Cd":0.4,"Cs":0.5},
{"d":"2020-11-17","M":0.3,"Gh":0.2,"Gd":0.2,"Gs":0.3,"Eh":0.1,"Ed":0.1,"Es":0.1,"Bh":0.1,"Bd":0.1,"Bs":0.1,"Ch":0.2,"Cd":0.1,"Cs":0.2},
{"d":"2020-11-20","M":0.6,"Gh":0.5,"Gd":0.4,"Gs":0.5,"Eh":0.3,"Ed":0.2,"Es":0.3,"Bh":0.2,"Bd":0.2,"Bs":0.3,"Ch":0.6,"Cd":0.5,"Cs":0.5},
{"d":"2020-11-23","M":0.4,"Gh":0.3,"Gd":0.3,"Gs":0.3,"Eh":0.1,"Ed":0.2,"Es":0.1,"Bh":0.1,"Bd":0.1,"Bs":0.2,"Ch":0.3,"Cd":0.3,"Cs":0.4},
{"d":"2020-11-26","M":0.6,"Gh":0.5,"Gd":0.4,"Gs":0.6,"Eh":0.4,"Ed":0.3,"Es":0.4,"Bh":0.3,"Bd":0.3,"Bs":0.4,"Ch":0.6,"Cd":0.7,"Cs":0.6},
{"d":"2020-11-29","M":0.3,"Gh":0.2,"Gd":0.1,"Gs":0.2,"Eh":0.1,"Ed":0.1,"Es":0.1,"Bh":0.1,"Bd":0.1,"Bs":0.1,"Ch":0.2,"Cd":0.1,"Cs":0.2},
{"d":"2020-12-02","M":0.2,"Gh":0.1,"Gd":0.1,"Gs":0.1,"Eh":0.0,"Ed":0.1,"Es":0.0,"Bh":0.0,"Bd":0.0,"Bs":0.0,"Ch":0.1,"Cd":0.1,"Cs":0.1},
{"d":"2020-12-05","M":0.2,"Gh":0.2,"Gd":0.1,"Gs":0.2,"Eh":0.1,"Ed":0.1,"Es":0.1,"Bh":0.1,"Bd":0.1,"Bs":0.1,"Ch":0.1,"Cd":0.2,"Cs":0.1},
{"d":"2020-12-08","M":0.1,"Gh":0.1,"Gd":0.1,"Gs":0.1,"Eh":0.1,"Ed":0.1,"Es":0.1,"Bh":0.0,"Bd":0.0,"Bs":0.1,"Ch":0.1,"Cd":0.1,"Cs":0.1},
{"d":"2020-12-11","M":0.2,"Gh":0.1,"Gd":0.1,"Gs":0.1,"Eh":0.3,"Ed":0.1,"Es":0.2,"Bh":0.1,"Bd":0.0,"Bs":0.1,"Ch":0.2,"Cd":0.1,"Cs":0.1},
{"d":"2020-12-14","M":0.1,"Gh":0.0,"Gd":0.0,"Gs":0.0,"Eh":0.0,"Ed":0.0,"Es":0.0,"Bh":0.0,"Bd":0.0,"Bs":0.0,"Ch":0.0,"Cd":0.0,"Cs":0.0},
{"d":"2020-12-17","M":0.2,"Gh":0.1,"Gd":0.1,"Gs":0.1,"Eh":0.1,"Ed":0.1,"Es":0.1,"Bh":0.0,"Bd":0.1,"Bs":0.0,"Ch":0.1,"Cd":0.1,"Cs":0.1},
{"d":"2020-12-20","M":0.2,"Gh":0.1,"Gd":0.1,"Gs":0.1,"Eh":0.1,"Ed":0.1,"Es":0.1,"Bh":0.1,"Bd":0.0,"Bs":0.1,"Ch":0.2,"Cd":0.1,"Cs":0.2},
{"d":"2020-12-23","M":0.4,"Gh":0.2,"Gd":0.2,"Gs":0.3,"Eh":0.2,"Ed":0.2,"Es":0.2,"Bh":0.1,"Bd":0.1,"Bs":0.1,"Ch":0.3,"Cd":0.2,"Cs":0.2},
{"d":"2020-12-26","M":0.5,"Gh":0.1,"Gd":0.1,"Gs":0.1,"Eh":0.2,"Ed":0.1,"Es":0.1,"Bh":0.0,"Bd":0.0,"Bs":0.1,"Ch":0.1,"Cd":0.1,"Cs":0.1},
{"d":"2020-12-29","M":0.2,"Gh":0.1,"Gd":0.1,"Gs":0.1,"Eh":0.1,"Ed":0.1,"Es":0.1,"Bh":0.0,"Bd":0.0,"Bs":0.1,"Ch":0.1,"Cd":0.1,"Cs":0.1}
],
"monthly":[
{"t":"2003-01","M":5,"Gh":3,"Gd":3,"Gr":3,"Gs":4,"Eh":3,"Ed":3,"Er":3,"Es":4,"Bh":3,"Bd":3,"Br":3,"Bs":3,"Ch":5,"Cd":5,"Cr":4,"Cs":6},
{"t":"2003-02","M":9,"Gh":6,"Gd":6,"Gr":5,"Gs":7,"Eh":7,"Ed":6,"Er":6,"Es":7,"Bh":6,"Bd":6,"Br":6,"Bs":6,"Ch":9,"Cd":8,"Cr":8,"Cs":10},
{"t":"2003-03","M":30,"Gh":18,"Gd":19,"Gr":17,"Gs":20,"Eh":20,"Ed":21,"Er":19,"Es":22,"Bh":24,"Bd":25,"Br":23,"Bs":26,"Ch":32,"Cd":34,"Cr":30,"Cs":35},
{"t":"2003-04","M":68,"Gh":48,"Gd":50,"Gr":45,"Gs":52,"Eh":55,"Ed":57,"Er":52,"Es":58,"Bh":62,"Bd":65,"Br":60,"Bs":66,"Ch":72,"Cd":75,"Cr":70,"Cs":78},
{"t":"2003-05","M":116,"Gh":82,"Gd":86,"Gr":78,"Gs":88,"Eh":90,"Ed":95,"Er":86,"Es":94,"Bh":100,"Bd":105,"Br":96,"Bs":104,"Ch":108,"Cd":113,"Cr":106,"Cs":115},
{"t":"2003-06","M":104,"Gh":72,"Gd":75,"Gr":68,"Gs":78,"Eh":85,"Ed":90,"Er":82,"Es":88,"Bh":88,"Bd":92,"Br":85,"Bs":90,"Ch":122,"Cd":128,"Cr":118,"Cs":126},
{"t":"2003-07","M":108,"Gh":58,"Gd":62,"Gr":55,"Gs":65,"Eh":78,"Ed":82,"Er":75,"Es":80,"Bh":78,"Bd":82,"Br":74,"Bs":80,"Ch":125,"Cd":131,"Cr":120,"Cs":128},
{"t":"2003-08","M":99,"Gh":42,"Gd":45,"Gr":40,"Gs":48,"Eh":65,"Ed":70,"Er":62,"Es":72,"Bh":62,"Bd":68,"Br":60,"Bs":66,"Ch":100,"Cd":108,"Cr":104,"Cs":112},
{"t":"2003-09","M":60,"Gh":30,"Gd":33,"Gr":28,"Gs":35,"Eh":40,"Ed":44,"Er":38,"Es":45,"Bh":40,"Bd":43,"Br":38,"Bs":42,"Ch":55,"Cd":60,"Cr":52,"Cs":62},
{"t":"2003-10","M":24,"Gh":10,"Gd":11,"Gr":10,"Gs":12,"Eh":12,"Ed":13,"Er":11,"Es":14,"Bh":12,"Bd":13,"Br":12,"Bs":13,"Ch":16,"Cd":18,"Cr":15,"Cs":18},
{"t":"2003-11","M":13,"Gh":4,"Gd":4,"Gr":4,"Gs":5,"Eh":2,"Ed":2,"Er":2,"Es":3,"Bh":3,"Bd":3,"Br":3,"Bs":3,"Ch":5,"Cd":5,"Cr":5,"Cs":6},
{"t":"2003-12","M":13,"Gh":3,"Gd":3,"Gr":3,"Gs":4,"Eh":3,"Ed":3,"Er":3,"Es":3,"Bh":3,"Bd":3,"Br":3,"Bs":3,"Ch":4,"Cd":4,"Cr":4,"Cs":5},
{"t":"2004-01","M":5,"Gh":4,"Gd":4,"Gr":4,"Gs":5,"Eh":4,"Ed":4,"Er":4,"Es":4,"Bh":4,"Bd":4,"Br":4,"Bs":4,"Ch":6,"Cd":6,"Cr":5,"Cs":7},
{"t":"2004-02","M":12,"Gh":8,"Gd":9,"Gr":8,"Gs":10,"Eh":9,"Ed":10,"Er":9,"Es":10,"Bh":9,"Bd":10,"Br":9,"Bs":10,"Ch":12,"Cd":13,"Cr":11,"Cs":14},
{"t":"2004-03","M":25,"Gh":18,"Gd":20,"Gr":17,"Gs":21,"Eh":20,"Ed":22,"Er":19,"Es":22,"Bh":22,"Bd":24,"Br":21,"Bs":24,"Ch":30,"Cd":32,"Cr":28,"Cs":34},
{"t":"2004-04","M":70,"Gh":50,"Gd":55,"Gr":48,"Gs":56,"Eh":55,"Ed":58,"Er":52,"Es":60,"Bh":60,"Bd":63,"Br":58,"Bs":65,"Ch":75,"Cd":80,"Cr":72,"Cs":85},
{"t":"2004-05","M":82,"Gh":78,"Gd":82,"Gr":74,"Gs":85,"Eh":72,"Ed":78,"Er":70,"Es":80,"Bh":78,"Bd":80,"Br":75,"Bs":82,"Ch":100,"Cd":105,"Cr":98,"Cs":108},
{"t":"2004-06","M":98,"Gh":90,"Gd":97,"Gr":86,"Gs":95,"Eh":85,"Ed":90,"Er":82,"Es":88,"Bh":88,"Bd":92,"Br":85,"Bs":90,"Ch":125,"Cd":130,"Cr":120,"Cs":132},
{"t":"2004-07","M":116,"Gh":70,"Gd":74,"Gr":65,"Gs":78,"Eh":85,"Ed":88,"Er":80,"Es":90,"Bh":88,"Bd":92,"Br":84,"Bs":90,"Ch":122,"Cd":128,"Cr":118,"Cs":130},
{"t":"2004-08","M":100,"Gh":45,"Gd":48,"Gr":42,"Gs":52,"Eh":70,"Ed":75,"Er":68,"Es":78,"Bh":68,"Bd":72,"Br":65,"Bs":74,"Ch":95,"Cd":100,"Cr":92,"Cs":105},
{"t":"2004-09","M":55,"Gh":28,"Gd":30,"Gr":26,"Gs":32,"Eh":38,"Ed":42,"Er":36,"Es":44,"Bh":36,"Bd":40,"Br":35,"Bs":42,"Ch":50,"Cd":55,"Cr":48,"Cs":58},
{"t":"2004-10","M":25,"Gh":10,"Gd":11,"Gr":10,"Gs":12,"Eh":12,"Ed":13,"Er":12,"Es":14,"Bh":12,"Bd":13,"Br":12,"Bs":13,"Ch":15,"Cd":16,"Cr":14,"Cs":18},
{"t":"2004-11","M":8,"Gh":4,"Gd":4,"Gr":4,"Gs":5,"Eh":4,"Ed":4,"Er":4,"Es":5,"Bh":3,"Bd":3,"Br":3,"Bs":4,"Ch":5,"Cd":6,"Cr":5,"Cs":6},
{"t":"2004-12","M":4,"Gh":3,"Gd":3,"Gr":3,"Gs":3,"Eh":3,"Ed":3,"Er":3,"Es":3,"Bh":3,"Bd":3,"Br":3,"Bs":3,"Ch":4,"Cd":4,"Cr":4,"Cs":5},
{"t":"2005-01","M":3,"Gh":3,"Gd":3,"Gr":3,"Gs":4,"Eh":3,"Ed":3,"Er":3,"Es":3,"Bh":3,"Bd":3,"Br":3,"Bs":3,"Ch":4,"Cd":5,"Cr":4,"Cs":5},
{"t":"2005-02","M":6,"Gh":6,"Gd":7,"Gr":6,"Gs":8,"Eh":7,"Ed":7,"Er":6,"Es":8,"Bh":7,"Bd":7,"Br":6,"Bs":7,"Ch":9,"Cd":10,"Cr":9,"Cs":11},
{"t":"2005-03","M":22,"Gh":20,"Gd":21,"Gr":19,"Gs":22,"Eh":22,"Ed":23,"Er":21,"Es":24,"Bh":24,"Bd":25,"Br":23,"Bs":26,"Ch":30,"Cd":32,"Cr":28,"Cs":34},
{"t":"2005-04","M":62,"Gh":52,"Gd":55,"Gr":50,"Gs":58,"Eh":56,"Ed":60,"Er":54,"Es":62,"Bh":62,"Bd":65,"Br":60,"Bs":66,"Ch":72,"Cd":76,"Cr":70,"Cs":80},
{"t":"2005-05","M":105,"Gh":88,"Gd":92,"Gr":85,"Gs":95,"Eh":90,"Ed":94,"Er":86,"Es":96,"Bh":98,"Bd":103,"Br":95,"Bs":102,"Ch":112,"Cd":118,"Cr":108,"Cs":120},
{"t":"2005-06","M":128,"Gh":85,"Gd":90,"Gr":82,"Gs":88,"Eh":92,"Ed":98,"Er":90,"Es":96,"Bh":90,"Bd":95,"Br":88,"Bs":94,"Ch":125,"Cd":128,"Cr":120,"Cs":130},
{"t":"2005-07","M":118,"Gh":75,"Gd":80,"Gr":72,"Gs":82,"Eh":88,"Ed":92,"Er":85,"Es":90,"Bh":82,"Bd":88,"Br":80,"Bs":86,"Ch":126,"Cd":131,"Cr":122,"Cs":128},
{"t":"2005-08","M":80,"Gh":55,"Gd":58,"Gr":52,"Gs":60,"Eh":68,"Ed":72,"Er":65,"Es":74,"Bh":62,"Bd":66,"Br":60,"Bs":68,"Ch":88,"Cd":92,"Cr":85,"Cs":95},
{"t":"2005-09","M":78,"Gh":30,"Gd":33,"Gr":28,"Gs":35,"Eh":42,"Ed":45,"Er":40,"Es":46,"Bh":40,"Bd":42,"Br":38,"Bs":44,"Ch":55,"Cd":58,"Cr":52,"Cs":60},
{"t":"2005-10","M":30,"Gh":10,"Gd":11,"Gr":9,"Gs":12,"Eh":12,"Ed":13,"Er":12,"Es":14,"Bh":12,"Bd":12,"Br":11,"Bs":13,"Ch":16,"Cd":18,"Cr":15,"Cs":19},
{"t":"2005-11","M":8,"Gh":4,"Gd":4,"Gr":4,"Gs":5,"Eh":4,"Ed":4,"Er":4,"Es":4,"Bh":3,"Bd":3,"Br":3,"Bs":4,"Ch":5,"Cd":6,"Cr":5,"Cs":6},
{"t":"2005-12","M":1,"Gh":3,"Gd":3,"Gr":3,"Gs":3,"Eh":3,"Ed":3,"Er":3,"Es":3,"Bh":3,"Bd":3,"Br":3,"Bs":3,"Ch":4,"Cd":4,"Cr":4,"Cs":5},
{"t":"2006-01","M":1,"Gh":3,"Gd":3,"Gr":3,"Gs":4,"Eh":3,"Ed":3,"Er":3,"Es":3,"Bh":3,"Bd":3,"Br":3,"Bs":3,"Ch":5,"Cd":5,"Cr":4,"Cs":6},
{"t":"2006-02","M":1,"Gh":5,"Gd":5,"Gr":5,"Gs":6,"Eh":5,"Ed":5,"Er":5,"Es":6,"Bh":5,"Bd":5,"Br":5,"Bs":6,"Ch":7,"Cd":8,"Cr":7,"Cs":8},
{"t":"2006-03","M":8,"Gh":15,"Gd":16,"Gr":14,"Gs":17,"Eh":17,"Ed":18,"Er":16,"Es":19,"Bh":18,"Bd":19,"Br":17,"Bs":20,"Ch":22,"Cd":24,"Cr":21,"Cs":25},
{"t":"2006-04","M":50,"Gh":45,"Gd":48,"Gr":43,"Gs":50,"Eh":50,"Ed":53,"Er":48,"Es":55,"Bh":55,"Bd":58,"Br":52,"Bs":60,"Ch":65,"Cd":70,"Cr":62,"Cs":72},
{"t":"2006-05","M":90,"Gh":75,"Gd":78,"Gr":72,"Gs":80,"Eh":82,"Ed":86,"Er":80,"Es":88,"Bh":88,"Bd":92,"Br":85,"Bs":94,"Ch":108,"Cd":113,"Cr":105,"Cs":115},
{"t":"2006-06","M":110,"Gh":85,"Gd":90,"Gr":80,"Gs":88,"Eh":95,"Ed":100,"Er":92,"Es":102,"Bh":98,"Bd":103,"Br":95,"Bs":100,"Ch":125,"Cd":132,"Cr":120,"Cs":135},
{"t":"2006-07","M":128,"Gh":82,"Gd":86,"Gr":78,"Gs":84,"Eh":100,"Ed":105,"Er":96,"Es":104,"Bh":92,"Bd":96,"Br":88,"Bs":95,"Ch":150,"Cd":162,"Cr":145,"Cs":158},
{"t":"2006-08","M":78,"Gh":55,"Gd":60,"Gr":52,"Gs":62,"Eh":65,"Ed":70,"Er":62,"Es":72,"Bh":62,"Bd":66,"Br":60,"Bs":68,"Ch":88,"Cd":95,"Cr":85,"Cs":98},
{"t":"2006-09","M":52,"Gh":32,"Gd":35,"Gr":30,"Gs":36,"Eh":40,"Ed":44,"Er":38,"Es":45,"Bh":38,"Bd":42,"Br":36,"Bs":44,"Ch":52,"Cd":56,"Cr":50,"Cs":58},
{"t":"2006-10","M":25,"Gh":12,"Gd":13,"Gr":11,"Gs":14,"Eh":14,"Ed":15,"Er":13,"Es":16,"Bh":13,"Bd":14,"Br":12,"Bs":15,"Ch":18,"Cd":20,"Cr":17,"Cs":21},
{"t":"2006-11","M":8,"Gh":5,"Gd":5,"Gr":4,"Gs":6,"Eh":5,"Ed":5,"Er":4,"Es":5,"Bh":4,"Bd":4,"Br":4,"Bs":5,"Ch":6,"Cd":7,"Cr":6,"Cs":8},
{"t":"2006-12","M":5,"Gh":3,"Gd":3,"Gr":3,"Gs":4,"Eh":4,"Ed":4,"Er":3,"Es":4,"Bh":3,"Bd":3,"Br":3,"Bs":4,"Ch":5,"Cd":5,"Cr":5,"Cs":6},
{"t":"2007-01","M":5,"Gh":4,"Gd":4,"Gr":4,"Gs":5,"Eh":4,"Ed":4,"Er":4,"Es":5,"Bh":4,"Bd":4,"Br":4,"Bs":4,"Ch":8,"Cd":9,"Cr":7,"Cs":10},
{"t":"2007-02","M":10,"Gh":7,"Gd":7,"Gr":6,"Gs":8,"Eh":8,"Ed":8,"Er":7,"Es":9,"Bh":7,"Bd":8,"Br":7,"Bs":8,"Ch":12,"Cd":13,"Cr":11,"Cs":14},
{"t":"2007-03","M":25,"Gh":20,"Gd":22,"Gr":19,"Gs":23,"Eh":22,"Ed":24,"Er":21,"Es":25,"Bh":24,"Bd":26,"Br":23,"Bs":27,"Ch":32,"Cd":34,"Cr":30,"Cs":36},
{"t":"2007-04","M":62,"Gh":55,"Gd":58,"Gr":52,"Gs":60,"Eh":60,"Ed":63,"Er":57,"Es":65,"Bh":66,"Bd":70,"Br":64,"Bs":72,"Ch":80,"Cd":85,"Cr":78,"Cs":90},
{"t":"2007-05","M":95,"Gh":88,"Gd":95,"Gr":85,"Gs":100,"Eh":90,"Ed":95,"Er":86,"Es":98,"Bh":98,"Bd":103,"Br":94,"Bs":100,"Ch":112,"Cd":118,"Cr":108,"Cs":120},
{"t":"2007-06","M":95,"Gh":82,"Gd":88,"Gr":78,"Gs":90,"Eh":88,"Ed":93,"Er":85,"Es":95,"Bh":90,"Bd":95,"Br":86,"Bs":92,"Ch":122,"Cd":128,"Cr":118,"Cs":130},
{"t":"2007-07","M":116,"Gh":78,"Gd":82,"Gr":74,"Gs":85,"Eh":92,"Ed":98,"Er":88,"Es":96,"Bh":88,"Bd":92,"Br":85,"Bs":90,"Ch":128,"Cd":135,"Cr":124,"Cs":132},
{"t":"2007-08","M":82,"Gh":55,"Gd":60,"Gr":52,"Gs":62,"Eh":68,"Ed":72,"Er":65,"Es":74,"Bh":65,"Bd":68,"Br":62,"Bs":70,"Ch":92,"Cd":98,"Cr":90,"Cs":100},
{"t":"2007-09","M":48,"Gh":30,"Gd":33,"Gr":28,"Gs":35,"Eh":40,"Ed":43,"Er":38,"Es":45,"Bh":38,"Bd":40,"Br":36,"Bs":42,"Ch":52,"Cd":56,"Cr":50,"Cs":58},
{"t":"2007-10","M":22,"Gh":11,"Gd":12,"Gr":10,"Gs":13,"Eh":13,"Ed":14,"Er":12,"Es":15,"Bh":12,"Bd":13,"Br":12,"Bs":14,"Ch":16,"Cd":18,"Cr":15,"Cs":19},
{"t":"2007-11","M":8,"Gh":4,"Gd":4,"Gr":4,"Gs":5,"Eh":4,"Ed":5,"Er":4,"Es":5,"Bh":4,"Bd":4,"Br":4,"Bs":4,"Ch":6,"Cd":6,"Cr":5,"Cs":7},
{"t":"2007-12","M":4,"Gh":3,"Gd":3,"Gr":3,"Gs":4,"Eh":3,"Ed":4,"Er":3,"Es":4,"Bh":3,"Bd":3,"Br":3,"Bs":3,"Ch":5,"Cd":5,"Cr":4,"Cs":5},
{"t":"2008-01","M":7,"Gh":4,"Gd":4,"Gr":4,"Gs":5,"Eh":5,"Ed":5,"Er":4,"Es":5,"Bh":4,"Bd":4,"Br":4,"Bs":5,"Ch":6,"Cd":6,"Cr":5,"Cs":7},
{"t":"2008-02","M":15,"Gh":8,"Gd":8,"Gr":7,"Gs":9,"Eh":9,"Ed":9,"Er":8,"Es":10,"Bh":8,"Bd":9,"Br":8,"Bs":9,"Ch":11,"Cd":12,"Cr":10,"Cs":13},
{"t":"2008-03","M":22,"Gh":18,"Gd":20,"Gr":17,"Gs":21,"Eh":20,"Ed":22,"Er":19,"Es":23,"Bh":22,"Bd":24,"Br":21,"Bs":25,"Ch":28,"Cd":30,"Cr":27,"Cs":32},
{"t":"2008-04","M":55,"Gh":50,"Gd":53,"Gr":48,"Gs":55,"Eh":55,"Ed":58,"Er":52,"Es":60,"Bh":60,"Bd":63,"Br":58,"Bs":65,"Ch":72,"Cd":76,"Cr":70,"Cs":80},
{"t":"2008-05","M":95,"Gh":80,"Gd":85,"Gr":78,"Gs":88,"Eh":85,"Ed":90,"Er":82,"Es":92,"Bh":92,"Bd":96,"Br":88,"Bs":98,"Ch":108,"Cd":112,"Cr":104,"Cs":115},
{"t":"2008-06","M":108,"Gh":85,"Gd":90,"Gr":82,"Gs":88,"Eh":90,"Ed":95,"Er":86,"Es":94,"Bh":95,"Bd":100,"Br":92,"Bs":98,"Ch":125,"Cd":130,"Cr":120,"Cs":128},
{"t":"2008-07","M":100,"Gh":72,"Gd":76,"Gr":68,"Gs":80,"Eh":88,"Ed":92,"Er":84,"Es":90,"Bh":85,"Bd":90,"Br":82,"Bs":88,"Ch":126,"Cd":133,"Cr":122,"Cs":130},
{"t":"2008-08","M":70,"Gh":52,"Gd":56,"Gr":50,"Gs":58,"Eh":65,"Ed":68,"Er":62,"Es":70,"Bh":62,"Bd":65,"Br":60,"Bs":66,"Ch":90,"Cd":95,"Cr":88,"Cs":98},
{"t":"2008-09","M":45,"Gh":30,"Gd":32,"Gr":28,"Gs":34,"Eh":38,"Ed":41,"Er":36,"Es":42,"Bh":36,"Bd":38,"Br":34,"Bs":40,"Ch":50,"Cd":54,"Cr":48,"Cs":56},
{"t":"2008-10","M":20,"Gh":11,"Gd":12,"Gr":10,"Gs":13,"Eh":12,"Ed":13,"Er":11,"Es":14,"Bh":12,"Bd":12,"Br":11,"Bs":13,"Ch":16,"Cd":17,"Cr":15,"Cs":18},
{"t":"2008-11","M":6,"Gh":4,"Gd":4,"Gr":4,"Gs":5,"Eh":4,"Ed":4,"Er":4,"Es":5,"Bh":4,"Bd":4,"Br":3,"Bs":4,"Ch":6,"Cd":6,"Cr":5,"Cs":7},
{"t":"2008-12","M":2,"Gh":3,"Gd":3,"Gr":3,"Gs":3,"Eh":3,"Ed":3,"Er":3,"Es":3,"Bh":3,"Bd":3,"Br":3,"Bs":3,"Ch":4,"Cd":4,"Cr":4,"Cs":5},
{"t":"2009-01","M":2,"Gh":3,"Gd":3,"Gr":3,"Gs":4,"Eh":3,"Ed":3,"Er":3,"Es":4,"Bh":3,"Bd":3,"Br":3,"Bs":3,"Ch":4,"Cd":5,"Cr":4,"Cs":5},
{"t":"2009-02","M":6,"Gh":6,"Gd":6,"Gr":5,"Gs":7,"Eh":6,"Ed":7,"Er":6,"Es":7,"Bh":6,"Bd":6,"Br":6,"Bs":7,"Ch":8,"Cd":9,"Cr":8,"Cs":10},
{"t":"2009-03","M":25,"Gh":20,"Gd":22,"Gr":19,"Gs":23,"Eh":22,"Ed":24,"Er":21,"Es":25,"Bh":24,"Bd":26,"Br":23,"Bs":27,"Ch":30,"Cd":32,"Cr":29,"Cs":34},
{"t":"2009-04","M":70,"Gh":58,"Gd":62,"Gr":55,"Gs":65,"Eh":62,"Ed":66,"Er":60,"Es":68,"Bh":70,"Bd":74,"Br":68,"Bs":76,"Ch":85,"Cd":90,"Cr":82,"Cs":95},
{"t":"2009-05","M":101,"Gh":85,"Gd":90,"Gr":82,"Gs":92,"Eh":88,"Ed":92,"Er":85,"Es":95,"Bh":95,"Bd":100,"Br":92,"Bs":98,"Ch":100,"Cd":95,"Cr":98,"Cs":102},
{"t":"2009-06","M":98,"Gh":95,"Gd":100,"Gr":92,"Gs":105,"Eh":95,"Ed":100,"Er":92,"Es":98,"Bh":98,"Bd":105,"Br":95,"Bs":102,"Ch":135,"Cd":142,"Cr":130,"Cs":140},
{"t":"2009-07","M":109,"Gh":110,"Gd":120,"Gr":105,"Gs":112,"Eh":98,"Ed":102,"Er":94,"Es":100,"Bh":95,"Bd":100,"Br":92,"Bs":98,"Ch":128,"Cd":134,"Cr":124,"Cs":132},
{"t":"2009-08","M":80,"Gh":60,"Gd":65,"Gr":58,"Gs":68,"Eh":70,"Ed":74,"Er":68,"Es":76,"Bh":68,"Bd":72,"Br":65,"Bs":74,"Ch":92,"Cd":98,"Cr":90,"Cs":100},
{"t":"2009-09","M":50,"Gh":32,"Gd":35,"Gr":30,"Gs":36,"Eh":40,"Ed":44,"Er":38,"Es":45,"Bh":38,"Bd":42,"Br":36,"Bs":43,"Ch":52,"Cd":56,"Cr":50,"Cs":58},
{"t":"2009-10","M":22,"Gh":12,"Gd":13,"Gr":11,"Gs":14,"Eh":14,"Ed":15,"Er":13,"Es":16,"Bh":13,"Bd":14,"Br":12,"Bs":15,"Ch":18,"Cd":20,"Cr":17,"Cs":21},
{"t":"2009-11","M":10,"Gh":5,"Gd":5,"Gr":4,"Gs":6,"Eh":5,"Ed":5,"Er":5,"Es":6,"Bh":5,"Bd":5,"Br":4,"Bs":5,"Ch":7,"Cd":8,"Cr":7,"Cs":9},
{"t":"2009-12","M":4,"Gh":3,"Gd":3,"Gr":3,"Gs":4,"Eh":3,"Ed":4,"Er":3,"Es":4,"Bh":3,"Bd":3,"Br":3,"Bs":4,"Ch":5,"Cd":5,"Cr":5,"Cs":6},
{"t":"2010-01","M":2,"Gh":3,"Gd":3,"Gr":3,"Gs":3,"Eh":3,"Ed":3,"Er":3,"Es":3,"Bh":3,"Bd":3,"Br":3,"Bs":3,"Ch":4,"Cd":4,"Cr":4,"Cs":5},
{"t":"2010-02","M":5,"Gh":5,"Gd":5,"Gr":5,"Gs":6,"Eh":5,"Ed":6,"Er":5,"Es":6,"Bh":5,"Bd":5,"Br":5,"Bs":6,"Ch":7,"Cd":7,"Cr":6,"Cs":8},
{"t":"2010-03","M":20,"Gh":18,"Gd":19,"Gr":17,"Gs":20,"Eh":19,"Ed":21,"Er":18,"Es":22,"Bh":21,"Bd":23,"Br":20,"Bs":24,"Ch":26,"Cd":28,"Cr":25,"Cs":30},
{"t":"2010-04","M":55,"Gh":48,"Gd":50,"Gr":45,"Gs":52,"Eh":52,"Ed":55,"Er":50,"Es":58,"Bh":58,"Bd":60,"Br":55,"Bs":62,"Ch":68,"Cd":72,"Cr":65,"Cs":75},
{"t":"2010-05","M":70,"Gh":62,"Gd":65,"Gr":60,"Gs":68,"Eh":66,"Ed":70,"Er":64,"Es":72,"Bh":70,"Bd":74,"Br":68,"Bs":76,"Ch":75,"Cd":80,"Cr":72,"Cs":82},
{"t":"2010-06","M":98,"Gh":85,"Gd":90,"Gr":82,"Gs":88,"Eh":88,"Ed":92,"Er":85,"Es":95,"Bh":90,"Bd":95,"Br":88,"Bs":92,"Ch":115,"Cd":120,"Cr":110,"Cs":122},
{"t":"2010-07","M":126,"Gh":90,"Gd":95,"Gr":86,"Gs":92,"Eh":98,"Ed":102,"Er":95,"Es":100,"Bh":95,"Bd":100,"Br":92,"Bs":98,"Ch":138,"Cd":145,"Cr":132,"Cs":142},
{"t":"2010-08","M":85,"Gh":58,"Gd":62,"Gr":55,"Gs":65,"Eh":70,"Ed":75,"Er":68,"Es":76,"Bh":65,"Bd":70,"Br":62,"Bs":72,"Ch":92,"Cd":98,"Cr":90,"Cs":100},
{"t":"2010-09","M":48,"Gh":30,"Gd":33,"Gr":28,"Gs":35,"Eh":38,"Ed":41,"Er":36,"Es":42,"Bh":36,"Bd":38,"Br":34,"Bs":40,"Ch":50,"Cd":54,"Cr":48,"Cs":56},
{"t":"2010-10","M":22,"Gh":11,"Gd":12,"Gr":10,"Gs":13,"Eh":12,"Ed":13,"Er":11,"Es":14,"Bh":12,"Bd":12,"Br":11,"Bs":13,"Ch":15,"Cd":17,"Cr":14,"Cs":18},
{"t":"2010-11","M":6,"Gh":4,"Gd":4,"Gr":4,"Gs":5,"Eh":4,"Ed":4,"Er":4,"Es":5,"Bh":4,"Bd":4,"Br":4,"Bs":4,"Ch":6,"Cd":6,"Cr":5,"Cs":7},
{"t":"2010-12","M":1,"Gh":3,"Gd":3,"Gr":3,"Gs":3,"Eh":3,"Ed":3,"Er":3,"Es":3,"Bh":3,"Bd":3,"Br":3,"Bs":3,"Ch":4,"Cd":4,"Cr":4,"Cs":5},
{"t":"2011-01","M":1,"Gh":3,"Gd":3,"Gr":3,"Gs":3,"Eh":3,"Ed":3,"Er":3,"Es":3,"Bh":3,"Bd":3,"Br":3,"Bs":3,"Ch":4,"Cd":4,"Cr":4,"Cs":5},
{"t":"2011-02","M":2,"Gh":6,"Gd":6,"Gr":5,"Gs":7,"Eh":6,"Ed":6,"Er":6,"Es":7,"Bh":6,"Bd":6,"Br":5,"Bs":6,"Ch":8,"Cd":8,"Cr":7,"Cs":9},
{"t":"2011-03","M":25,"Gh":22,"Gd":24,"Gr":21,"Gs":25,"Eh":24,"Ed":26,"Er":23,"Es":27,"Bh":26,"Bd":28,"Br":25,"Bs":30,"Ch":32,"Cd":34,"Cr":30,"Cs":36},
{"t":"2011-04","M":75,"Gh":60,"Gd":65,"Gr":58,"Gs":68,"Eh":65,"Ed":70,"Er":62,"Es":72,"Bh":72,"Bd":76,"Br":70,"Bs":78,"Ch":85,"Cd":90,"Cr":82,"Cs":95},
{"t":"2011-05","M":122,"Gh":90,"Gd":95,"Gr":86,"Gs":98,"Eh":95,"Ed":100,"Er":90,"Es":98,"Bh":105,"Bd":110,"Br":100,"Bs":108,"Ch":112,"Cd":120,"Cr":108,"Cs":118},
{"t":"2011-06","M":102,"Gh":85,"Gd":90,"Gr":82,"Gs":92,"Eh":90,"Ed":95,"Er":86,"Es":94,"Bh":90,"Bd":95,"Br":86,"Bs":92,"Ch":110,"Cd":116,"Cr":105,"Cs":115},
{"t":"2011-07","M":100,"Gh":80,"Gd":85,"Gr":76,"Gs":88,"Eh":85,"Ed":90,"Er":82,"Es":88,"Bh":85,"Bd":90,"Br":80,"Bs":88,"Ch":112,"Cd":122,"Cr":108,"Cs":118},
{"t":"2011-08","M":100,"Gh":65,"Gd":70,"Gr":62,"Gs":72,"Eh":75,"Ed":80,"Er":72,"Es":82,"Bh":72,"Bd":76,"Br":70,"Bs":78,"Ch":95,"Cd":100,"Cr":92,"Cs":104},
{"t":"2011-09","M":50,"Gh":32,"Gd":35,"Gr":30,"Gs":36,"Eh":40,"Ed":44,"Er":38,"Es":45,"Bh":38,"Bd":42,"Br":36,"Bs":44,"Ch":52,"Cd":56,"Cr":50,"Cs":58},
{"t":"2011-10","M":22,"Gh":12,"Gd":13,"Gr":11,"Gs":14,"Eh":13,"Ed":14,"Er":12,"Es":15,"Bh":12,"Bd":13,"Br":12,"Bs":14,"Ch":16,"Cd":18,"Cr":15,"Cs":19},
{"t":"2011-11","M":6,"Gh":4,"Gd":4,"Gr":4,"Gs":5,"Eh":4,"Ed":4,"Er":4,"Es":5,"Bh":4,"Bd":4,"Br":4,"Bs":4,"Ch":6,"Cd":6,"Cr":5,"Cs":7},
{"t":"2011-12","M":4,"Gh":3,"Gd":3,"Gr":3,"Gs":3,"Eh":3,"Ed":3,"Er":3,"Es":3,"Bh":3,"Bd":3,"Br":3,"Bs":3,"Ch":4,"Cd":4,"Cr":4,"Cs":5},
{"t":"2012-01","M":3,"Gh":3,"Gd":3,"Gr":3,"Gs":4,"Eh":3,"Ed":3,"Er":3,"Es":4,"Bh":3,"Bd":3,"Br":3,"Bs":3,"Ch":5,"Cd":5,"Cr":4,"Cs":6},
{"t":"2012-02","M":3,"Gh":5,"Gd":5,"Gr":5,"Gs":6,"Eh":5,"Ed":5,"Er":5,"Es":6,"Bh":5,"Bd":5,"Br":5,"Bs":5,"Ch":7,"Cd":8,"Cr":7,"Cs":9},
{"t":"2012-03","M":28,"Gh":22,"Gd":24,"Gr":21,"Gs":25,"Eh":24,"Ed":26,"Er":23,"Es":27,"Bh":26,"Bd":28,"Br":25,"Bs":30,"Ch":32,"Cd":34,"Cr":30,"Cs":36},
{"t":"2012-04","M":60,"Gh":52,"Gd":55,"Gr":50,"Gs":58,"Eh":56,"Ed":60,"Er":54,"Es":62,"Bh":62,"Bd":66,"Br":60,"Bs":68,"Ch":75,"Cd":80,"Cr":72,"Cs":85},
{"t":"2012-05","M":124,"Gh":95,"Gd":100,"Gr":90,"Gs":102,"Eh":90,"Ed":95,"Er":86,"Es":92,"Bh":105,"Bd":110,"Br":100,"Bs":106,"Ch":112,"Cd":118,"Cr":108,"Cs":120},
{"t":"2012-06","M":96,"Gh":80,"Gd":85,"Gr":76,"Gs":88,"Eh":82,"Ed":86,"Er":78,"Es":88,"Bh":85,"Bd":90,"Br":82,"Bs":88,"Ch":100,"Cd":105,"Cr":96,"Cs":108},
{"t":"2012-07","M":123,"Gh":100,"Gd":108,"Gr":95,"Gs":105,"Eh":92,"Ed":95,"Er":88,"Es":96,"Bh":95,"Bd":98,"Br":92,"Bs":96,"Ch":128,"Cd":133,"Cr":124,"Cs":130},
{"t":"2012-08","M":95,"Gh":55,"Gd":60,"Gr":52,"Gs":62,"Eh":70,"Ed":74,"Er":68,"Es":76,"Bh":65,"Bd":70,"Br":62,"Bs":72,"Ch":92,"Cd":98,"Cr":90,"Cs":100},
{"t":"2012-09","M":52,"Gh":32,"Gd":35,"Gr":30,"Gs":36,"Eh":40,"Ed":43,"Er":38,"Es":44,"Bh":38,"Bd":41,"Br":36,"Bs":42,"Ch":52,"Cd":56,"Cr":50,"Cs":58},
{"t":"2012-10","M":22,"Gh":11,"Gd":12,"Gr":10,"Gs":13,"Eh":13,"Ed":14,"Er":12,"Es":15,"Bh":12,"Bd":13,"Br":11,"Bs":14,"Ch":16,"Cd":18,"Cr":15,"Cs":19},
{"t":"2012-11","M":6,"Gh":4,"Gd":4,"Gr":4,"Gs":5,"Eh":4,"Ed":5,"Er":4,"Es":5,"Bh":4,"Bd":4,"Br":4,"Bs":4,"Ch":6,"Cd":7,"Cr":6,"Cs":7},
{"t":"2012-12","M":2,"Gh":3,"Gd":3,"Gr":3,"Gs":3,"Eh":3,"Ed":3,"Er":3,"Es":3,"Bh":3,"Bd":3,"Br":3,"Bs":3,"Ch":4,"Cd":4,"Cr":4,"Cs":5},
{"t":"2013-01","M":1,"Gh":3,"Gd":3,"Gr":3,"Gs":3,"Eh":3,"Ed":3,"Er":3,"Es":3,"Bh":3,"Bd":3,"Br":3,"Bs":3,"Ch":4,"Cd":4,"Cr":4,"Cs":5},
{"t":"2013-02","M":2,"Gh":4,"Gd":4,"Gr":4,"Gs":5,"Eh":4,"Ed":5,"Er":4,"Es":5,"Bh":4,"Bd":4,"Br":4,"Bs":5,"Ch":6,"Cd":6,"Cr":5,"Cs":7},
{"t":"2013-03","M":8,"Gh":12,"Gd":13,"Gr":11,"Gs":14,"Eh":13,"Ed":14,"Er":12,"Es":15,"Bh":14,"Bd":15,"Br":13,"Bs":16,"Ch":17,"Cd":18,"Cr":16,"Cs":20},
{"t":"2013-04","M":45,"Gh":42,"Gd":45,"Gr":40,"Gs":48,"Eh":45,"Ed":48,"Er":43,"Es":50,"Bh":50,"Bd":53,"Br":48,"Bs":55,"Ch":60,"Cd":64,"Cr":58,"Cs":68},
{"t":"2013-05","M":85,"Gh":75,"Gd":80,"Gr":72,"Gs":82,"Eh":78,"Ed":82,"Er":75,"Es":84,"Bh":85,"Bd":88,"Br":82,"Bs":90,"Ch":95,"Cd":100,"Cr":92,"Cs":104},
{"t":"2013-06","M":100,"Gh":88,"Gd":92,"Gr":85,"Gs":95,"Eh":92,"Ed":96,"Er":88,"Es":98,"Bh":92,"Bd":96,"Br":88,"Bs":95,"Ch":118,"Cd":122,"Cr":112,"Cs":125},
{"t":"2013-07","M":133,"Gh":92,"Gd":95,"Gr":88,"Gs":98,"Eh":100,"Ed":103,"Er":96,"Es":102,"Bh":95,"Bd":100,"Br":92,"Bs":98,"Ch":142,"Cd":150,"Cr":138,"Cs":148},
{"t":"2013-08","M":80,"Gh":55,"Gd":60,"Gr":52,"Gs":62,"Eh":70,"Ed":74,"Er":68,"Es":76,"Bh":65,"Bd":70,"Br":62,"Bs":72,"Ch":92,"Cd":98,"Cr":90,"Cs":100},
{"t":"2013-09","M":38,"Gh":28,"Gd":30,"Gr":26,"Gs":32,"Eh":35,"Ed":38,"Er":33,"Es":40,"Bh":33,"Bd":36,"Br":31,"Bs":38,"Ch":45,"Cd":48,"Cr":43,"Cs":50},
{"t":"2013-10","M":10,"Gh":10,"Gd":11,"Gr":9,"Gs":12,"Eh":12,"Ed":12,"Er":11,"Es":13,"Bh":11,"Bd":12,"Br":10,"Bs":12,"Ch":14,"Cd":16,"Cr":13,"Cs":17},
{"t":"2013-11","M":5,"Gh":4,"Gd":4,"Gr":4,"Gs":5,"Eh":4,"Ed":4,"Er":4,"Es":5,"Bh":4,"Bd":4,"Br":4,"Bs":4,"Ch":6,"Cd":6,"Cr":5,"Cs":7},
{"t":"2013-12","M":3,"Gh":3,"Gd":3,"Gr":3,"Gs":3,"Eh":3,"Ed":3,"Er":3,"Es":3,"Bh":3,"Bd":3,"Br":3,"Bs":3,"Ch":4,"Cd":4,"Cr":4,"Cs":5},
{"t":"2014-01","M":3,"Gh":3,"Gd":3,"Gr":3,"Gs":4,"Eh":3,"Ed":3,"Er":3,"Es":4,"Bh":3,"Bd":3,"Br":3,"Bs":3,"Ch":5,"Cd":5,"Cr":4,"Cs":6},
{"t":"2014-02","M":8,"Gh":8,"Gd":8,"Gr":7,"Gs":9,"Eh":8,"Ed":9,"Er":8,"Es":10,"Bh":8,"Bd":8,"Br":7,"Bs":9,"Ch":11,"Cd":12,"Cr":10,"Cs":13},
{"t":"2014-03","M":25,"Gh":22,"Gd":24,"Gr":21,"Gs":25,"Eh":24,"Ed":26,"Er":23,"Es":27,"Bh":26,"Bd":28,"Br":25,"Bs":30,"Ch":32,"Cd":34,"Cr":30,"Cs":36},
{"t":"2014-04","M":58,"Gh":52,"Gd":55,"Gr":50,"Gs":58,"Eh":56,"Ed":60,"Er":54,"Es":62,"Bh":62,"Bd":66,"Br":60,"Bs":68,"Ch":72,"Cd":76,"Cr":70,"Cs":80},
{"t":"2014-05","M":85,"Gh":75,"Gd":80,"Gr":72,"Gs":82,"Eh":80,"Ed":84,"Er":76,"Es":86,"Bh":86,"Bd":90,"Br":82,"Bs":92,"Ch":100,"Cd":105,"Cr":96,"Cs":108},
{"t":"2014-06","M":95,"Gh":90,"Gd":95,"Gr":85,"Gs":100,"Eh":92,"Ed":98,"Er":88,"Es":96,"Bh":100,"Bd":108,"Br":95,"Bs":104,"Ch":112,"Cd":118,"Cr":108,"Cs":120},
{"t":"2014-07","M":122,"Gh":95,"Gd":100,"Gr":90,"Gs":98,"Eh":100,"Ed":105,"Er":96,"Es":104,"Bh":95,"Bd":102,"Br":92,"Bs":100,"Ch":132,"Cd":138,"Cr":128,"Cs":135},
{"t":"2014-08","M":90,"Gh":60,"Gd":65,"Gr":58,"Gs":68,"Eh":72,"Ed":76,"Er":70,"Es":78,"Bh":68,"Bd":72,"Br":65,"Bs":74,"Ch":95,"Cd":100,"Cr":92,"Cs":104},
{"t":"2014-09","M":45,"Gh":32,"Gd":35,"Gr":30,"Gs":36,"Eh":40,"Ed":43,"Er":38,"Es":44,"Bh":38,"Bd":41,"Br":36,"Bs":42,"Ch":50,"Cd":54,"Cr":48,"Cs":56},
{"t":"2014-10","M":20,"Gh":12,"Gd":13,"Gr":11,"Gs":14,"Eh":13,"Ed":14,"Er":12,"Es":15,"Bh":12,"Bd":13,"Br":12,"Bs":14,"Ch":16,"Cd":18,"Cr":15,"Cs":19},
{"t":"2014-11","M":5,"Gh":4,"Gd":4,"Gr":4,"Gs":5,"Eh":4,"Ed":4,"Er":4,"Es":5,"Bh":4,"Bd":4,"Br":3,"Bs":4,"Ch":6,"Cd":6,"Cr":5,"Cs":7},
{"t":"2014-12","M":3,"Gh":3,"Gd":3,"Gr":3,"Gs":3,"Eh":3,"Ed":3,"Er":3,"Es":3,"Bh":3,"Bd":3,"Br":3,"Bs":3,"Ch":4,"Cd":4,"Cr":4,"Cs":5},
{"t":"2015-01","M":4,"Gh":3,"Gd":3,"Gr":3,"Gs":4,"Eh":3,"Ed":3,"Er":3,"Es":4,"Bh":3,"Bd":3,"Br":3,"Bs":3,"Ch":5,"Cd":5,"Cr":4,"Cs":6},
{"t":"2015-02","M":8,"Gh":6,"Gd":6,"Gr":5,"Gs":7,"Eh":6,"Ed":7,"Er":6,"Es":7,"Bh":6,"Bd":6,"Br":6,"Bs":7,"Ch":8,"Cd":9,"Cr":8,"Cs":10},
{"t":"2015-03","M":30,"Gh":22,"Gd":24,"Gr":21,"Gs":25,"Eh":24,"Ed":26,"Er":23,"Es":27,"Bh":26,"Bd":28,"Br":25,"Bs":30,"Ch":34,"Cd":36,"Cr":32,"Cs":38},
{"t":"2015-04","M":70,"Gh":55,"Gd":58,"Gr":52,"Gs":60,"Eh":60,"Ed":63,"Er":57,"Es":65,"Bh":66,"Bd":70,"Br":64,"Bs":72,"Ch":80,"Cd":85,"Cr":78,"Cs":88},
{"t":"2015-05","M":110,"Gh":88,"Gd":92,"Gr":85,"Gs":95,"Eh":90,"Ed":95,"Er":86,"Es":96,"Bh":100,"Bd":105,"Br":95,"Bs":102,"Ch":110,"Cd":115,"Cr":106,"Cs":118},
{"t":"2015-06","M":100,"Gh":82,"Gd":86,"Gr":78,"Gs":90,"Eh":88,"Ed":92,"Er":84,"Es":94,"Bh":88,"Bd":92,"Br":85,"Bs":90,"Ch":115,"Cd":120,"Cr":110,"Cs":122},
{"t":"2015-07","M":120,"Gh":90,"Gd":95,"Gr":86,"Gs":92,"Eh":98,"Ed":100,"Er":94,"Es":98,"Bh":92,"Bd":96,"Br":88,"Bs":95,"Ch":142,"Cd":151,"Cr":138,"Cs":148},
{"t":"2015-08","M":85,"Gh":58,"Gd":62,"Gr":55,"Gs":65,"Eh":70,"Ed":74,"Er":68,"Es":76,"Bh":65,"Bd":70,"Br":62,"Bs":72,"Ch":92,"Cd":98,"Cr":90,"Cs":100},
{"t":"2015-09","M":38,"Gh":30,"Gd":32,"Gr":28,"Gs":34,"Eh":36,"Ed":39,"Er":34,"Es":40,"Bh":35,"Bd":38,"Br":33,"Bs":39,"Ch":46,"Cd":50,"Cr":44,"Cs":52},
{"t":"2015-10","M":28,"Gh":10,"Gd":11,"Gr":9,"Gs":12,"Eh":11,"Ed":12,"Er":10,"Es":13,"Bh":11,"Bd":11,"Br":10,"Bs":12,"Ch":14,"Cd":15,"Cr":13,"Cs":16},
{"t":"2015-11","M":18,"Gh":4,"Gd":4,"Gr":4,"Gs":5,"Eh":4,"Ed":4,"Er":4,"Es":5,"Bh":4,"Bd":4,"Br":3,"Bs":4,"Ch":6,"Cd":6,"Cr":5,"Cs":7},
{"t":"2015-12","M":10,"Gh":3,"Gd":3,"Gr":3,"Gs":3,"Eh":3,"Ed":3,"Er":3,"Es":3,"Bh":3,"Bd":3,"Br":3,"Bs":3,"Ch":4,"Cd":4,"Cr":4,"Cs":5},
{"t":"2016-01","M":6,"Gh":3,"Gd":3,"Gr":3,"Gs":4,"Eh":3,"Ed":3,"Er":3,"Es":4,"Bh":3,"Bd":3,"Br":3,"Bs":3,"Ch":5,"Cd":5,"Cr":4,"Cs":6},
{"t":"2016-02","M":8,"Gh":6,"Gd":6,"Gr":5,"Gs":7,"Eh":6,"Ed":7,"Er":6,"Es":7,"Bh":6,"Bd":6,"Br":6,"Bs":7,"Ch":8,"Cd":9,"Cr":8,"Cs":10},
{"t":"2016-03","M":28,"Gh":22,"Gd":24,"Gr":21,"Gs":25,"Eh":24,"Ed":26,"Er":23,"Es":27,"Bh":26,"Bd":28,"Br":25,"Bs":30,"Ch":34,"Cd":36,"Cr":32,"Cs":38},
{"t":"2016-04","M":65,"Gh":55,"Gd":58,"Gr":52,"Gs":60,"Eh":58,"Ed":62,"Er":56,"Es":64,"Bh":64,"Bd":68,"Br":62,"Bs":70,"Ch":78,"Cd":82,"Cr":75,"Cs":86},
{"t":"2016-05","M":104,"Gh":88,"Gd":92,"Gr":85,"Gs":95,"Eh":88,"Ed":92,"Er":85,"Es":94,"Bh":95,"Bd":100,"Br":92,"Bs":98,"Ch":105,"Cd":110,"Cr":102,"Cs":112},
{"t":"2016-06","M":109,"Gh":98,"Gd":105,"Gr":94,"Gs":102,"Eh":92,"Ed":97,"Er":88,"Es":95,"Bh":95,"Bd":100,"Br":92,"Bs":98,"Ch":115,"Cd":120,"Cr":112,"Cs":122},
{"t":"2016-07","M":111,"Gh":85,"Gd":90,"Gr":80,"Gs":92,"Eh":95,"Ed":100,"Er":92,"Es":98,"Bh":90,"Bd":95,"Br":86,"Bs":94,"Ch":126,"Cd":132,"Cr":122,"Cs":130},
{"t":"2016-08","M":80,"Gh":55,"Gd":60,"Gr":52,"Gs":62,"Eh":70,"Ed":74,"Er":68,"Es":76,"Bh":65,"Bd":70,"Br":62,"Bs":72,"Ch":92,"Cd":98,"Cr":90,"Cs":100},
{"t":"2016-09","M":45,"Gh":32,"Gd":35,"Gr":30,"Gs":36,"Eh":40,"Ed":43,"Er":38,"Es":44,"Bh":38,"Bd":41,"Br":36,"Bs":42,"Ch":50,"Cd":54,"Cr":48,"Cs":56},
{"t":"2016-10","M":20,"Gh":11,"Gd":12,"Gr":10,"Gs":13,"Eh":12,"Ed":13,"Er":11,"Es":14,"Bh":12,"Bd":12,"Br":11,"Bs":13,"Ch":15,"Cd":17,"Cr":14,"Cs":18},
{"t":"2016-11","M":8,"Gh":4,"Gd":4,"Gr":4,"Gs":5,"Eh":4,"Ed":4,"Er":4,"Es":5,"Bh":4,"Bd":4,"Br":4,"Bs":4,"Ch":6,"Cd":6,"Cr":5,"Cs":7},
{"t":"2016-12","M":3,"Gh":3,"Gd":3,"Gr":3,"Gs":3,"Eh":3,"Ed":3,"Er":3,"Es":3,"Bh":3,"Bd":3,"Br":3,"Bs":3,"Ch":4,"Cd":4,"Cr":4,"Cs":5},
{"t":"2017-01","M":3,"Gh":3,"Gd":3,"Gr":3,"Gs":4,"Eh":3,"Ed":3,"Er":3,"Es":4,"Bh":3,"Bd":3,"Br":3,"Bs":3,"Ch":5,"Cd":5,"Cr":4,"Cs":6},
{"t":"2017-02","M":10,"Gh":7,"Gd":7,"Gr":6,"Gs":8,"Eh":7,"Ed":8,"Er":7,"Es":8,"Bh":7,"Bd":7,"Br":7,"Bs":8,"Ch":10,"Cd":10,"Cr":9,"Cs":11},
{"t":"2017-03","M":40,"Gh":25,"Gd":27,"Gr":24,"Gs":28,"Eh":27,"Ed":29,"Er":26,"Es":30,"Bh":30,"Bd":32,"Br":28,"Bs":34,"Ch":38,"Cd":40,"Cr":36,"Cs":42},
{"t":"2017-04","M":52,"Gh":50,"Gd":52,"Gr":48,"Gs":55,"Eh":52,"Ed":55,"Er":50,"Es":58,"Bh":56,"Bd":60,"Br":54,"Bs":62,"Ch":66,"Cd":70,"Cr":64,"Cs":74},
{"t":"2017-05","M":107,"Gh":85,"Gd":90,"Gr":82,"Gs":92,"Eh":88,"Ed":92,"Er":84,"Es":94,"Bh":95,"Bd":100,"Br":92,"Bs":98,"Ch":108,"Cd":112,"Cr":104,"Cs":115},
{"t":"2017-06","M":100,"Gh":95,"Gd":100,"Gr":90,"Gs":98,"Eh":92,"Ed":96,"Er":88,"Es":95,"Bh":92,"Bd":97,"Br":88,"Bs":95,"Ch":118,"Cd":125,"Cr":114,"Cs":122},
{"t":"2017-07","M":120,"Gh":85,"Gd":90,"Gr":82,"Gs":92,"Eh":92,"Ed":95,"Er":88,"Es":94,"Bh":88,"Bd":93,"Br":85,"Bs":90,"Ch":126,"Cd":132,"Cr":122,"Cs":130},
{"t":"2017-08","M":92,"Gh":58,"Gd":62,"Gr":55,"Gs":65,"Eh":70,"Ed":74,"Er":68,"Es":76,"Bh":65,"Bd":70,"Br":62,"Bs":72,"Ch":92,"Cd":98,"Cr":90,"Cs":100},
{"t":"2017-09","M":45,"Gh":30,"Gd":33,"Gr":28,"Gs":35,"Eh":38,"Ed":41,"Er":36,"Es":42,"Bh":36,"Bd":38,"Br":34,"Bs":40,"Ch":48,"Cd":52,"Cr":46,"Cs":54},
{"t":"2017-10","M":20,"Gh":11,"Gd":12,"Gr":10,"Gs":13,"Eh":12,"Ed":13,"Er":11,"Es":14,"Bh":12,"Bd":12,"Br":11,"Bs":13,"Ch":15,"Cd":17,"Cr":14,"Cs":18},
{"t":"2017-11","M":10,"Gh":4,"Gd":4,"Gr":4,"Gs":5,"Eh":4,"Ed":4,"Er":4,"Es":5,"Bh":4,"Bd":4,"Br":3,"Bs":4,"Ch":6,"Cd":6,"Cr":5,"Cs":7},
{"t":"2017-12","M":8,"Gh":3,"Gd":3,"Gr":3,"Gs":3,"Eh":3,"Ed":3,"Er":3,"Es":3,"Bh":3,"Bd":3,"Br":3,"Bs":3,"Ch":4,"Cd":4,"Cr":4,"Cs":5},
{"t":"2018-01","M":10,"Gh":4,"Gd":4,"Gr":4,"Gs":5,"Eh":4,"Ed":4,"Er":4,"Es":5,"Bh":4,"Bd":4,"Br":4,"Bs":4,"Ch":6,"Cd":6,"Cr":5,"Cs":7},
{"t":"2018-02","M":12,"Gh":5,"Gd":5,"Gr":5,"Gs":6,"Eh":5,"Ed":6,"Er":5,"Es":6,"Bh":5,"Bd":5,"Br":5,"Bs":6,"Ch":7,"Cd":8,"Cr":7,"Cs":8},
{"t":"2018-03","M":14,"Gh":12,"Gd":13,"Gr":11,"Gs":14,"Eh":13,"Ed":14,"Er":12,"Es":15,"Bh":14,"Bd":15,"Br":13,"Bs":16,"Ch":18,"Cd":20,"Cr":17,"Cs":21},
{"t":"2018-04","M":62,"Gh":55,"Gd":58,"Gr":52,"Gs":60,"Eh":58,"Ed":62,"Er":56,"Es":64,"Bh":64,"Bd":68,"Br":62,"Bs":70,"Ch":78,"Cd":82,"Cr":75,"Cs":86},
{"t":"2018-05","M":116,"Gh":88,"Gd":92,"Gr":85,"Gs":95,"Eh":92,"Ed":96,"Er":88,"Es":98,"Bh":108,"Bd":113,"Br":104,"Bs":110,"Ch":115,"Cd":120,"Cr":110,"Cs":122},
{"t":"2018-06","M":66,"Gh":70,"Gd":72,"Gr":66,"Gs":75,"Eh":80,"Ed":84,"Er":76,"Es":86,"Bh":90,"Bd":94,"Br":86,"Bs":92,"Ch":108,"Cd":115,"Cr":104,"Cs":112},
{"t":"2018-07","M":94,"Gh":60,"Gd":65,"Gr":58,"Gs":68,"Eh":82,"Ed":86,"Er":78,"Es":88,"Bh":80,"Bd":84,"Br":76,"Bs":86,"Ch":138,"Cd":128,"Cr":125,"Cs":130},
{"t":"2018-08","M":55,"Gh":45,"Gd":48,"Gr":42,"Gs":50,"Eh":40,"Ed":24,"Er":35,"Es":38,"Bh":46,"Bd":48,"Br":44,"Bs":50,"Ch":60,"Cd":57,"Cr":55,"Cs":62},
{"t":"2018-09","M":54,"Gh":35,"Gd":38,"Gr":33,"Gs":40,"Eh":42,"Ed":45,"Er":40,"Es":46,"Bh":38,"Bd":42,"Br":36,"Bs":44,"Ch":48,"Cd":52,"Cr":46,"Cs":54},
{"t":"2018-10","M":25,"Gh":12,"Gd":13,"Gr":11,"Gs":14,"Eh":14,"Ed":15,"Er":13,"Es":16,"Bh":13,"Bd":14,"Br":12,"Bs":15,"Ch":17,"Cd":18,"Cr":16,"Cs":20},
{"t":"2018-11","M":8,"Gh":4,"Gd":4,"Gr":4,"Gs":5,"Eh":4,"Ed":4,"Er":4,"Es":5,"Bh":4,"Bd":4,"Br":4,"Bs":4,"Ch":6,"Cd":6,"Cr":5,"Cs":7},
{"t":"2018-12","M":1,"Gh":3,"Gd":3,"Gr":3,"Gs":3,"Eh":3,"Ed":3,"Er":3,"Es":3,"Bh":3,"Bd":3,"Br":3,"Bs":3,"Ch":4,"Cd":4,"Cr":4,"Cs":5},
{"t":"2019-01","M":3,"Gh":3,"Gd":3,"Gr":3,"Gs":4,"Eh":3,"Ed":3,"Er":3,"Es":4,"Bh":3,"Bd":3,"Br":3,"Bs":3,"Ch":5,"Cd":5,"Cr":4,"Cs":6},
{"t":"2019-02","M":10,"Gh":7,"Gd":7,"Gr":6,"Gs":8,"Eh":7,"Ed":8,"Er":7,"Es":8,"Bh":7,"Bd":7,"Br":7,"Bs":8,"Ch":10,"Cd":10,"Cr":9,"Cs":11},
{"t":"2019-03","M":22,"Gh":22,"Gd":24,"Gr":21,"Gs":25,"Eh":24,"Ed":26,"Er":23,"Es":27,"Bh":26,"Bd":28,"Br":25,"Bs":30,"Ch":34,"Cd":36,"Cr":32,"Cs":38},
{"t":"2019-04","M":70,"Gh":55,"Gd":58,"Gr":52,"Gs":60,"Eh":58,"Ed":62,"Er":56,"Es":64,"Bh":64,"Bd":68,"Br":62,"Bs":70,"Ch":80,"Cd":85,"Cr":78,"Cs":88},
{"t":"2019-05","M":68,"Gh":70,"Gd":72,"Gr":66,"Gs":75,"Eh":72,"Ed":76,"Er":70,"Es":78,"Bh":78,"Bd":82,"Br":75,"Bs":85,"Ch":90,"Cd":95,"Cr":88,"Cs":98},
{"t":"2019-06","M":131,"Gh":100,"Gd":105,"Gr":96,"Gs":102,"Eh":112,"Ed":118,"Er":108,"Es":115,"Bh":110,"Bd":115,"Br":106,"Bs":112,"Ch":138,"Cd":143,"Cr":132,"Cs":140},
{"t":"2019-07","M":92,"Gh":60,"Gd":65,"Gr":55,"Gs":68,"Eh":82,"Ed":86,"Er":78,"Es":88,"Bh":78,"Bd":82,"Br":75,"Bs":85,"Ch":128,"Cd":135,"Cr":124,"Cs":132},
{"t":"2019-08","M":82,"Gh":48,"Gd":52,"Gr":45,"Gs":55,"Eh":65,"Ed":70,"Er":62,"Es":72,"Bh":60,"Bd":65,"Br":58,"Bs":66,"Ch":88,"Cd":92,"Cr":85,"Cs":95},
{"t":"2019-09","M":45,"Gh":30,"Gd":33,"Gr":28,"Gs":35,"Eh":38,"Ed":41,"Er":36,"Es":42,"Bh":36,"Bd":38,"Br":34,"Bs":40,"Ch":48,"Cd":52,"Cr":46,"Cs":54},
{"t":"2019-10","M":20,"Gh":11,"Gd":12,"Gr":10,"Gs":13,"Eh":12,"Ed":13,"Er":11,"Es":14,"Bh":12,"Bd":12,"Br":11,"Bs":13,"Ch":15,"Cd":17,"Cr":14,"Cs":18},
{"t":"2019-11","M":6,"Gh":4,"Gd":4,"Gr":4,"Gs":5,"Eh":4,"Ed":4,"Er":4,"Es":5,"Bh":4,"Bd":4,"Br":3,"Bs":4,"Ch":6,"Cd":6,"Cr":5,"Cs":7},
{"t":"2019-12","M":5,"Gh":3,"Gd":3,"Gr":3,"Gs":3,"Eh":3,"Ed":3,"Er":3,"Es":3,"Bh":3,"Bd":3,"Br":3,"Bs":3,"Ch":4,"Cd":4,"Cr":4,"Cs":5},
{"t":"2020-01","M":4,"Gh":3,"Gd":3,"Gr":3,"Gs":4,"Eh":3,"Ed":3,"Er":3,"Es":4,"Bh":3,"Bd":3,"Br":3,"Bs":3,"Ch":5,"Cd":5,"Cr":4,"Cs":6},
{"t":"2020-02","M":6,"Gh":6,"Gd":6,"Gr":5,"Gs":7,"Eh":6,"Ed":7,"Er":6,"Es":7,"Bh":6,"Bd":6,"Br":6,"Bs":7,"Ch":8,"Cd":9,"Cr":8,"Cs":10},
{"t":"2020-03","M":20,"Gh":20,"Gd":22,"Gr":19,"Gs":23,"Eh":22,"Ed":24,"Er":21,"Es":25,"Bh":24,"Bd":26,"Br":23,"Bs":27,"Ch":32,"Cd":34,"Cr":30,"Cs":36},
{"t":"2020-04","M":55,"Gh":55,"Gd":58,"Gr":52,"Gs":60,"Eh":58,"Ed":62,"Er":56,"Es":64,"Bh":64,"Bd":68,"Br":62,"Bs":70,"Ch":85,"Cd":90,"Cr":82,"Cs":95},
{"t":"2020-05","M":80,"Gh":70,"Gd":74,"Gr":66,"Gs":76,"Eh":75,"Ed":78,"Er":72,"Es":80,"Bh":80,"Bd":84,"Br":78,"Bs":86,"Ch":100,"Cd":105,"Cr":96,"Cs":108},
{"t":"2020-06","M":103,"Gh":85,"Gd":90,"Gr":82,"Gs":92,"Eh":90,"Ed":95,"Er":86,"Es":94,"Bh":92,"Bd":96,"Br":88,"Bs":95,"Ch":115,"Cd":120,"Cr":110,"Cs":122},
{"t":"2020-07","M":80,"Gh":72,"Gd":76,"Gr":68,"Gs":78,"Eh":88,"Ed":94,"Er":85,"Es":92,"Bh":82,"Bd":86,"Br":78,"Bs":88,"Ch":130,"Cd":139,"Cr":126,"Cs":136},
{"t":"2020-08","M":70,"Gh":42,"Gd":45,"Gr":40,"Gs":48,"Eh":70,"Ed":75,"Er":68,"Es":78,"Bh":60,"Bd":64,"Br":58,"Bs":66,"Ch":108,"Cd":118,"Cr":104,"Cs":115},
{"t":"2020-09","M":45,"Gh":30,"Gd":33,"Gr":28,"Gs":35,"Eh":40,"Ed":43,"Er":38,"Es":44,"Bh":36,"Bd":38,"Br":34,"Bs":40,"Ch":50,"Cd":54,"Cr":48,"Cs":56},
{"t":"2020-10","M":20,"Gh":11,"Gd":12,"Gr":10,"Gs":13,"Eh":12,"Ed":13,"Er":11,"Es":14,"Bh":12,"Bd":12,"Br":11,"Bs":13,"Ch":15,"Cd":17,"Cr":14,"Cs":18},
{"t":"2020-11","M":6,"Gh":4,"Gd":4,"Gr":4,"Gs":5,"Eh":4,"Ed":4,"Er":4,"Es":5,"Bh":4,"Bd":4,"Br":3,"Bs":4,"Ch":6,"Cd":6,"Cr":5,"Cs":7},
{"t":"2020-12","M":3,"Gh":3,"Gd":3,"Gr":3,"Gs":3,"Eh":3,"Ed":3,"Er":3,"Es":3,"Bh":3,"Bd":3,"Br":3,"Bs":3,"Ch":4,"Cd":4,"Cr":4,"Cs":5}
]
},
"vconcat":[
{
"data":{"name":"daily"},
"width":1606,"height":607,
"title":{"text":"Grillenburg","anchor":"start","frame":"group","dx":-20,"fontSize":28,"fontWeight":"normal","color":"#000000","offset":14},
"transform":[
{"fold":["M","Gh","Gd","Gs","Eh","Ed","Es","Bh","Bd","Bs","Ch","Cd","Cs"],"as":["k","v"]},
{"lookup":"k","from":{"data":{"name":"names"},"key":"k","fields":["n"]}}
],
"mark":{"type":"line","opacity":0.8,"strokeJoin":"round"},
"encoding":{
"x":{"field":"d","type":"temporal","scale":{"type":"utc","domain":[{"year":2020,"month":1,"date":1,"utc":true},{"year":2020,"month":12,"date":29,"utc":true}]},
"axis":{"title":null,"values":[{"year":2020,"month":1,"date":1,"utc":true},{"year":2020,"month":1,"date":16,"utc":true},{"year":2020,"month":2,"date":1,"utc":true},{"year":2020,"month":2,"date":16,"utc":true},{"year":2020,"month":3,"date":1,"utc":true},{"year":2020,"month":3,"date":16,"utc":true},{"year":2020,"month":4,"date":1,"utc":true},{"year":2020,"month":4,"date":16,"utc":true},{"year":2020,"month":5,"date":1,"utc":true},{"year":2020,"month":5,"date":16,"utc":true},{"year":2020,"month":6,"date":1,"utc":true},{"year":2020,"month":6,"date":16,"utc":true},{"year":2020,"month":7,"date":1,"utc":true},{"year":2020,"month":7,"date":16,"utc":true},{"year":2020,"month":8,"date":1,"utc":true},{"year":2020,"month":8,"date":16,"utc":true},{"year":2020,"month":9,"date":1,"utc":true},{"year":2020,"month":9,"date":16,"utc":true},{"year":2020,"month":10,"date":1,"utc":true},{"year":2020,"month":10,"date":16,"utc":true},{"year":2020,"month":11,"date":1,"utc":true},{"year":2020,"month":11,"date":16,"utc":true},{"year":2020,"month":12,"date":1,"utc":true},{"year":2020,"month":12,"date":16,"utc":true}],
"labelExpr":"utcdate(datum.value) == 1 ? utcFormat(datum.value, '%Y-%m-%d') : ''",
"labelAngle":-45,"labelAlign":"right","labelBaseline":"top",
"gridWidth":{"condition":{"test":"utcdate(datum.value) != 1","value":0.8},"value":1.6},
"tickOpacity":{"condition":{"test":"utcdate(datum.value) != 1","value":0},"value":1}}},
"y":{"field":"v","type":"quantitative","scale":{"domain":[-0.3,6.6],"nice":false,"zero":false},
"axis":{"title":"E daily [mm]","titlePadding":30,"values":[0,1,2,3,4,5,6],"labelExpr":"datum.value % 2 == 0 ? datum.label : ''",
"gridWidth":{"condition":{"test":"datum.value % 2 == 1","value":0.8},"value":1.6},
"tickOpacity":{"condition":{"test":"datum.value % 2 == 1","value":0},"value":1}}},
"color":{"field":"n","type":"nominal",
"scale":{"domain":["Measured","GBR90 + ERA5(hourly)","GBR90 + ERA5(daily)","GBR90 + station","EXTR + ERA5(hourly)","EXTR + ERA5(daily)","EXTR + station","BR90 + ERA5(hourly)","BR90 + ERA5(daily)","BR90 + station","CBR90 + ERA5(hourly)","CBR90 + ERA5(daily)","CBR90 + station"," ","  "],
"range":["#111111","#EFA700","#EFA700","#EFA700","#0072B2","#0072B2","#0072B2","#D55E00","#D55E00","#D55E00","#009E73","#009E73","#009E73","transparent","transparent"]},
"legend":{"title":"Evaporation","orient":"none","legendX":54,"legendY":795,"columns":5,"symbolType":"stroke","symbolSize":1089,"symbolOpacity":0.8,"labelFontSize":21,"labelColor":"#000000","labelLimit":400,"labelOffset":22,"titleFontSize":26,"titleFontWeight":"normal","titleColor":"#000000","titleOrient":"left","titleAnchor":"middle","titleBaseline":"middle","titlePadding":27,"columnPadding":13,"rowPadding":19,"encode":{"symbols":{"update":{"strokeWidth":{"signal":"datum.value === 'Measured' ? 4 : 2.6"}}}}}},
"strokeDash":{"field":"n","type":"nominal",
"scale":{"domain":["Measured","GBR90 + ERA5(hourly)","GBR90 + ERA5(daily)","GBR90 + station","EXTR + ERA5(hourly)","EXTR + ERA5(daily)","EXTR + station","BR90 + ERA5(hourly)","BR90 + ERA5(daily)","BR90 + station","CBR90 + ERA5(hourly)","CBR90 + ERA5(daily)","CBR90 + station"," ","  "],
"range":[[1,0],[3,10],[1,0],[24,10],[3,10],[1,0],[24,10],[3,10],[1,0],[24,10],[3,10],[1,0],[24,10],[1,0],[1,0]]},
"legend":{"title":"Evaporation","orient":"none","legendX":54,"legendY":795,"columns":5,"symbolType":"stroke","symbolSize":1089,"symbolOpacity":0.8,"labelFontSize":21,"labelColor":"#000000","labelLimit":400,"labelOffset":22,"titleFontSize":26,"titleFontWeight":"normal","titleColor":"#000000","titleOrient":"left","titleAnchor":"middle","titleBaseline":"middle","titlePadding":27,"columnPadding":13,"rowPadding":19,"encode":{"symbols":{"update":{"strokeWidth":{"signal":"datum.value === 'Measured' ? 4 : 2.6"}}}}}},
"strokeWidth":{"condition":{"test":"datum.k == 'M'","value":4},"value":2.6}
}
},
{
"data":{"name":"monthly"},
"width":1943,"height":651,
"transform":[
{"fold":["M","Gh","Gd","Gr","Gs","Eh","Ed","Er","Es","Bh","Bd","Br","Bs","Ch","Cd","Cr","Cs"],"as":["k","v"]},
{"lookup":"k","from":{"data":{"name":"names"},"key":"k","fields":["n"]}}
],
"mark":{"type":"line","opacity":0.8,"strokeJoin":"round"},
"encoding":{
"x":{"field":"t","type":"temporal","scale":{"type":"utc","domain":[{"year":2003,"month":1,"date":1,"utc":true},{"year":2020,"month":12,"date":1,"utc":true}]},
"axis":{"title":null,"values":[{"year":2003,"month":1,"date":1,"utc":true},{"year":2003,"month":7,"date":2,"utc":true},{"year":2004,"month":1,"date":1,"utc":true},{"year":2004,"month":7,"date":2,"utc":true},{"year":2005,"month":1,"date":1,"utc":true},{"year":2005,"month":7,"date":2,"utc":true},{"year":2006,"month":1,"date":1,"utc":true},{"year":2006,"month":7,"date":2,"utc":true},{"year":2007,"month":1,"date":1,"utc":true},{"year":2007,"month":7,"date":2,"utc":true},{"year":2008,"month":1,"date":1,"utc":true},{"year":2008,"month":7,"date":2,"utc":true},{"year":2009,"month":1,"date":1,"utc":true},{"year":2009,"month":7,"date":2,"utc":true},{"year":2010,"month":1,"date":1,"utc":true},{"year":2010,"month":7,"date":2,"utc":true},{"year":2011,"month":1,"date":1,"utc":true},{"year":2011,"month":7,"date":2,"utc":true},{"year":2012,"month":1,"date":1,"utc":true},{"year":2012,"month":7,"date":2,"utc":true},{"year":2013,"month":1,"date":1,"utc":true},{"year":2013,"month":7,"date":2,"utc":true},{"year":2014,"month":1,"date":1,"utc":true},{"year":2014,"month":7,"date":2,"utc":true},{"year":2015,"month":1,"date":1,"utc":true},{"year":2015,"month":7,"date":2,"utc":true},{"year":2016,"month":1,"date":1,"utc":true},{"year":2016,"month":7,"date":2,"utc":true},{"year":2017,"month":1,"date":1,"utc":true},{"year":2017,"month":7,"date":2,"utc":true},{"year":2018,"month":1,"date":1,"utc":true},{"year":2018,"month":7,"date":2,"utc":true},{"year":2019,"month":1,"date":1,"utc":true},{"year":2019,"month":7,"date":2,"utc":true},{"year":2020,"month":1,"date":1,"utc":true},{"year":2020,"month":7,"date":2,"utc":true}],
"labelExpr":"utcmonth(datum.value) == 0 ? utcFormat(datum.value, '%Y') : ''",
"labelAngle":-45,"labelAlign":"right","labelBaseline":"top",
"gridWidth":{"condition":{"test":"utcmonth(datum.value) != 0","value":0.8},"value":1.6},
"tickOpacity":{"condition":{"test":"utcmonth(datum.value) != 0","value":0},"value":1}}},
"y":{"field":"v","type":"quantitative","scale":{"domain":[-7.6,169.6],"nice":false,"zero":false},
"axis":{"title":"E monthly [mm]","titlePadding":14,"values":[0,25,50,75,100,125,150],"labelExpr":"datum.value % 50 == 0 ? datum.label : ''",
"gridWidth":{"condition":{"test":"datum.value % 50 != 0","value":0.8},"value":1.6},
"tickOpacity":{"condition":{"test":"datum.value % 50 != 0","value":0},"value":1}}},
"color":{"field":"n","type":"nominal",
"scale":{"domain":["Measured","GBR90 + ERA5(hourly)","GBR90 + ERA5(daily)","GBR90 + RAKLIDA","GBR90 + station","EXTR + ERA5(hourly)","EXTR + ERA5(daily)","EXTR + RAKLIDA","EXTR + station","BR90 + ERA5(hourly)","BR90 + ERA5(daily)","BR90 + RAKLIDA","BR90 + station","CBR90 + ERA5(hourly)","CBR90 + ERA5(daily)","CBR90 + RAKLIDA","CBR90 + station"," ","  ","   "],
"range":["#111111","#EFA700","#EFA700","#EFA700","#EFA700","#0072B2","#0072B2","#0072B2","#0072B2","#D55E00","#D55E00","#D55E00","#D55E00","#009E73","#009E73","#009E73","#009E73","transparent","transparent","transparent"]},
"legend":{"title":"Evaporation","orient":"none","legendX":233,"legendY":792,"columns":5,"symbolType":"stroke","symbolSize":1089,"symbolOpacity":0.8,"labelFontSize":21,"labelColor":"#000000","labelLimit":400,"labelOffset":22,"titleFontSize":26,"titleFontWeight":"normal","titleColor":"#000000","titleOrient":"left","titleAnchor":"middle","titleBaseline":"middle","titlePadding":27,"columnPadding":13,"rowPadding":19,"encode":{"symbols":{"update":{"strokeWidth":{"signal":"datum.value === 'Measured' ? 4 : 2.6"}}}}}},
"strokeDash":{"field":"n","type":"nominal",
"scale":{"domain":["Measured","GBR90 + ERA5(hourly)","GBR90 + ERA5(daily)","GBR90 + RAKLIDA","GBR90 + station","EXTR + ERA5(hourly)","EXTR + ERA5(daily)","EXTR + RAKLIDA","EXTR + station","BR90 + ERA5(hourly)","BR90 + ERA5(daily)","BR90 + RAKLIDA","BR90 + station","CBR90 + ERA5(hourly)","CBR90 + ERA5(daily)","CBR90 + RAKLIDA","CBR90 + station"," ","  ","   "],
"range":[[1,0],[3,10],[1,0],[3,10,14,10],[24,10],[3,10],[1,0],[3,10,14,10],[24,10],[3,10],[1,0],[3,10,14,10],[24,10],[3,10],[1,0],[3,10,14,10],[24,10],[1,0],[1,0],[1,0]]},
"legend":{"title":"Evaporation","orient":"none","legendX":233,"legendY":792,"columns":5,"symbolType":"stroke","symbolSize":1089,"symbolOpacity":0.8,"labelFontSize":21,"labelColor":"#000000","labelLimit":400,"labelOffset":22,"titleFontSize":26,"titleFontWeight":"normal","titleColor":"#000000","titleOrient":"left","titleAnchor":"middle","titleBaseline":"middle","titlePadding":27,"columnPadding":13,"rowPadding":19,"encode":{"symbols":{"update":{"strokeWidth":{"signal":"datum.value === 'Measured' ? 4 : 2.6"}}}}}},
"strokeWidth":{"condition":{"test":"datum.k == 'M'","value":4},"value":2.6}
}
}
],
"spacing":68,
"resolve":{"scale":{"color":"independent","strokeDash":"independent"}},
"config":{
"font":"Liberation Sans",
"view":{"stroke":"#333333","strokeWidth":1.5},
"axis":{"domain":false,"tickColor":"#333333","tickWidth":1.5,"tickSize":6,"labelFontSize":18.5,"labelColor":"#4D4D4D","labelPadding":4,"titleFontSize":23,"titleFontWeight":"normal","titleColor":"#000000","titlePadding":10,"gridColor":"#EBEBEB","labelOverlap":false,"labelFlush":false}
}
}
